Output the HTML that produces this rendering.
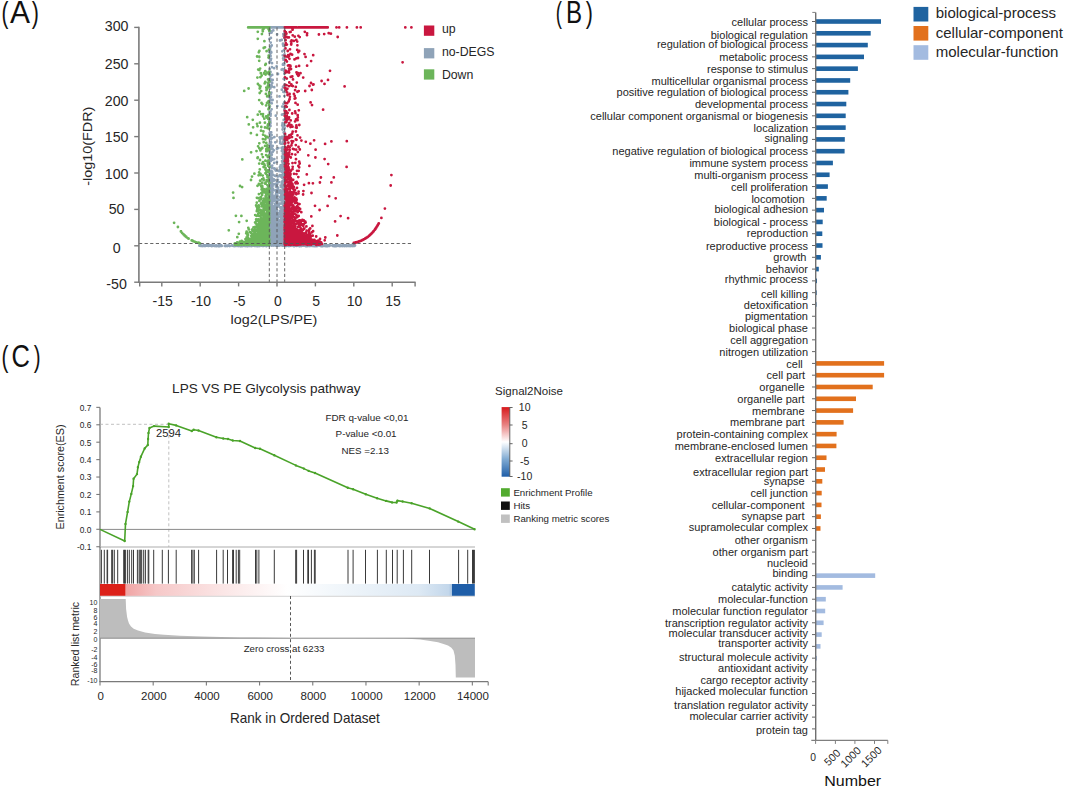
<!DOCTYPE html>
<html><head><meta charset="utf-8"><style>
html,body{margin:0;padding:0;background:#fff;}
svg{display:block;}
text{font-family:"Liberation Sans",sans-serif;}
</style></head><body>
<svg width="1065" height="788" viewBox="0 0 1065 788">
<rect width="1065" height="788" fill="#fff"/>
<text x="1.60" y="22.59" font-size="29.52" fill="#111" color="#111" textLength="6.92" lengthAdjust="spacingAndGlyphs" style="stroke-width:0.85px">(</text>
<text x="9.90" y="22.80" font-size="31.4" fill="#111" color="#111" textLength="19.99" lengthAdjust="spacingAndGlyphs" style="stroke-width:0.85px">A</text>
<text x="31.80" y="22.59" font-size="29.52" fill="#111" color="#111" textLength="7.12" lengthAdjust="spacingAndGlyphs" style="stroke-width:0.85px">)</text>
<g>
<path d="M281.8 212.9h0M270.2 180.6h0M281.8 231.3h0M283.5 244.1h0M270.2 245.2h0M276.4 234.7h0M282.9 171.8h0M283.1 202.3h0M281.0 227.6h0M271.0 244.6h0M269.6 232.0h0M270.4 236.2h0M270.3 88.4h0M269.6 229.4h0M280.2 143.2h0M279.8 220.8h0M269.7 217.3h0M284.5 226.4h0M284.4 165.8h0M269.3 27.4h0M269.5 239.5h0M271.0 174.8h0M276.3 209.0h0M283.6 140.2h0M269.5 239.1h0M283.8 213.5h0M270.7 114.0h0M283.5 191.9h0M272.0 209.5h0M277.9 242.9h0M283.4 207.7h0M276.2 245.1h0M278.1 238.0h0M283.4 227.8h0M269.6 239.7h0M271.3 92.7h0M274.1 242.7h0M275.0 242.8h0M270.2 135.6h0M281.4 199.5h0M269.5 239.2h0M270.4 226.7h0M275.7 240.9h0M281.9 136.8h0M278.6 190.3h0M283.6 235.3h0M269.9 202.6h0M284.0 216.5h0M283.7 222.4h0M270.0 180.6h0M284.5 161.8h0M270.3 155.3h0M276.6 66.3h0M283.9 64.3h0M283.4 195.4h0M282.1 208.3h0M270.3 231.0h0M281.3 187.1h0M271.0 80.2h0M270.5 204.9h0M280.3 176.3h0M272.8 215.2h0M270.5 214.7h0M272.1 182.9h0M282.9 221.8h0M282.9 213.8h0M280.4 203.6h0M269.4 204.7h0M283.2 231.0h0M277.1 195.1h0M273.5 229.0h0M284.4 198.1h0M271.6 183.7h0M283.8 194.3h0M269.4 138.2h0M271.0 174.6h0M282.9 171.5h0M271.5 208.2h0M275.6 233.0h0M277.6 245.6h0M272.7 146.0h0M277.6 198.8h0M284.6 119.9h0M282.9 153.2h0M269.8 241.2h0M269.7 197.3h0M278.8 230.2h0M277.2 193.2h0M276.0 237.0h0M271.8 224.4h0M270.4 205.8h0M271.2 207.9h0M283.0 237.8h0M270.8 185.5h0M275.3 216.9h0M270.4 132.3h0M270.0 206.2h0M277.1 34.3h0M271.5 217.8h0M281.0 219.5h0M269.7 151.5h0M270.3 60.2h0M270.5 240.0h0M274.8 226.0h0M269.9 227.1h0M270.1 192.0h0M282.5 241.8h0M283.0 166.9h0M274.6 237.3h0M280.7 232.7h0M274.4 137.1h0M272.1 227.3h0M284.5 237.6h0M269.4 205.0h0M270.4 115.5h0M271.0 226.0h0M269.9 188.4h0M281.0 222.3h0M273.6 245.4h0M277.3 214.7h0M279.2 241.6h0M284.2 201.6h0M271.9 210.9h0M283.8 208.0h0M282.9 215.8h0M284.3 139.6h0M271.3 186.5h0M278.3 230.6h0M270.6 230.4h0M270.0 219.8h0M284.1 149.6h0M275.7 196.7h0M269.5 166.8h0M282.9 222.4h0M270.6 227.7h0M270.6 85.4h0M278.7 170.7h0M273.6 197.7h0M269.3 124.3h0M273.5 244.2h0M277.6 206.7h0M277.8 242.2h0M272.6 227.1h0M269.9 191.1h0M283.1 172.9h0M283.0 233.8h0M271.7 232.0h0M282.8 227.3h0M276.8 242.3h0M270.6 231.6h0M281.5 198.2h0M280.5 239.6h0M278.1 240.8h0M280.0 40.5h0M270.2 235.8h0M279.7 175.2h0M284.1 182.1h0M281.0 212.7h0M277.2 184.3h0M282.8 212.2h0M269.9 214.1h0M279.4 230.7h0M270.4 178.0h0M283.6 150.4h0M270.2 99.0h0M283.0 147.1h0M271.5 157.9h0M281.7 196.2h0M279.8 238.7h0M273.5 226.1h0M283.1 142.8h0M270.3 185.9h0M269.7 210.7h0M283.7 210.3h0M273.6 235.6h0M277.7 189.1h0M283.0 219.7h0M270.4 171.1h0M284.6 127.8h0M269.9 72.2h0M281.6 220.2h0M271.7 208.5h0M270.3 233.8h0M270.9 46.4h0M271.5 176.8h0M271.1 233.2h0M283.2 190.5h0M279.8 237.5h0M275.7 222.6h0M284.5 128.5h0M284.1 220.6h0M279.7 239.7h0M276.2 184.4h0M283.1 196.0h0M270.0 54.3h0M282.2 212.6h0M275.1 242.2h0M276.5 231.0h0M270.9 222.1h0M272.1 240.2h0M280.1 244.3h0M283.9 244.5h0M283.9 242.8h0M276.7 239.4h0M284.3 109.7h0M269.4 73.3h0M272.5 222.5h0M280.3 231.9h0M272.9 214.8h0M270.3 217.0h0M269.6 133.1h0M276.7 185.8h0M282.7 229.6h0M269.5 159.9h0M270.4 212.1h0M269.8 29.1h0M283.1 176.1h0M271.6 211.7h0M270.9 225.1h0M283.0 201.3h0M269.8 238.9h0M274.5 240.8h0M270.8 234.6h0M271.5 244.3h0M282.0 114.7h0M283.0 224.9h0M282.6 151.4h0M283.1 240.9h0M280.5 175.8h0M284.4 85.9h0M284.5 54.3h0M283.3 141.9h0M272.4 203.0h0M283.6 86.2h0M270.5 235.8h0M270.8 224.3h0M270.7 231.7h0M283.2 243.2h0M274.1 231.2h0M282.9 239.6h0M270.3 236.7h0M282.8 220.2h0M272.1 201.7h0M284.5 32.6h0M270.6 55.9h0M283.7 119.9h0M272.1 196.2h0M284.2 202.1h0M277.2 216.0h0M269.7 50.2h0M271.5 82.6h0M273.7 243.9h0M273.7 180.7h0M277.7 234.5h0M271.8 154.8h0M271.7 245.7h0M283.9 213.3h0M270.9 232.0h0M276.0 186.7h0M280.3 214.0h0M282.4 233.8h0M284.2 233.7h0M284.5 222.0h0M273.4 223.0h0M269.6 242.8h0M280.0 243.6h0M282.3 192.1h0M279.9 234.0h0M275.6 183.9h0M270.8 236.0h0M270.4 189.4h0M283.0 244.2h0M275.8 225.8h0M270.7 244.4h0M281.2 240.7h0M270.2 229.3h0M269.5 225.1h0M271.3 52.6h0M284.3 225.8h0M269.7 234.5h0M282.9 225.3h0M277.6 237.8h0M283.9 243.9h0M284.4 216.5h0M270.9 203.8h0M269.6 193.7h0M275.2 241.3h0M271.8 160.1h0M270.5 208.3h0M277.7 230.8h0M280.5 196.7h0M273.6 239.4h0M282.6 225.0h0M272.6 232.0h0M278.0 244.8h0M271.0 97.1h0M272.3 198.6h0M275.9 205.7h0M274.4 243.3h0M275.5 232.7h0M273.0 238.5h0M271.6 229.1h0M270.2 197.4h0M284.5 219.5h0M283.2 231.5h0M275.1 244.4h0M283.6 178.2h0M272.6 239.0h0M278.7 243.8h0M276.2 243.0h0M283.7 161.7h0M270.3 227.9h0M283.6 235.8h0M282.4 245.0h0M283.9 242.5h0M281.7 241.4h0M272.3 225.6h0M283.8 229.6h0M273.1 215.2h0M271.3 238.0h0M280.1 243.0h0M283.8 221.7h0M276.7 206.9h0M284.6 225.5h0M282.5 199.8h0M284.4 212.6h0M273.5 240.4h0M273.8 236.8h0M271.5 100.0h0M279.5 233.1h0M271.7 200.3h0M284.1 55.6h0M277.7 229.8h0M281.6 227.1h0M278.8 232.4h0M274.2 87.2h0M272.0 181.3h0M283.9 137.2h0M284.3 186.8h0M276.7 233.0h0M270.3 233.8h0M272.1 178.2h0M283.1 27.4h0M277.8 225.6h0M283.7 206.7h0M269.5 38.9h0M271.1 244.7h0M283.1 228.0h0M281.1 231.9h0M284.0 234.5h0M270.9 180.7h0M270.0 224.8h0M280.4 239.7h0M283.9 232.8h0M274.5 175.6h0M283.7 236.3h0M271.5 238.0h0M277.0 223.2h0M283.9 230.3h0M270.5 160.7h0M270.0 134.0h0M283.5 242.9h0M270.6 76.0h0M278.8 204.5h0M271.1 58.8h0M283.9 192.1h0M278.1 235.3h0M276.2 244.5h0M270.7 209.7h0M278.9 229.9h0M269.9 220.5h0M269.9 138.5h0M281.8 181.8h0M283.5 234.2h0M276.8 245.2h0M276.1 193.7h0M276.9 162.0h0M269.6 164.1h0M274.6 241.6h0M272.1 173.9h0M283.8 170.1h0M282.9 69.2h0M271.1 201.6h0M284.1 197.6h0M278.2 187.6h0M274.6 232.7h0M270.4 231.1h0M283.8 195.2h0M275.1 242.8h0M271.2 232.7h0M276.9 216.9h0M270.1 240.5h0M270.8 161.1h0M273.6 243.1h0M269.9 122.1h0M283.7 240.1h0M282.8 232.7h0M276.3 241.4h0M269.8 183.3h0M269.8 198.0h0M276.7 238.3h0M269.6 243.3h0M277.6 223.1h0M283.9 243.4h0M272.2 138.1h0M269.4 241.8h0M282.6 203.9h0M272.8 159.5h0M270.5 167.2h0M270.3 99.0h0M278.0 217.5h0M273.8 242.1h0M270.2 234.5h0M282.5 221.7h0M278.0 217.7h0M271.8 207.3h0M281.9 245.4h0M277.5 195.9h0M284.2 241.1h0M275.7 170.5h0M283.4 233.7h0M271.0 218.9h0M283.9 159.7h0M283.7 242.3h0M270.6 243.8h0M281.9 226.5h0M274.8 195.8h0M270.8 132.3h0M273.1 199.2h0M270.8 94.3h0M277.0 210.2h0M270.7 189.7h0M283.8 233.2h0M275.4 211.8h0M271.6 234.3h0M284.7 232.3h0M271.4 225.7h0M270.5 195.2h0M275.7 245.6h0M269.6 81.0h0M284.1 239.8h0M271.3 222.2h0M272.6 174.5h0M270.3 198.8h0M269.8 215.0h0M283.1 233.0h0M282.3 202.1h0M280.7 185.4h0M274.6 210.5h0M277.3 228.6h0M284.6 211.6h0M275.4 239.4h0M284.4 218.9h0M282.7 243.1h0M273.2 236.2h0M270.9 146.3h0M271.6 207.1h0M271.6 213.7h0M269.8 78.8h0M282.8 239.0h0M282.9 153.9h0M282.4 125.0h0M272.0 221.7h0M271.1 100.0h0M281.5 242.6h0M281.9 212.6h0M281.6 240.2h0M284.1 190.2h0M283.2 203.6h0M283.4 227.3h0M283.8 126.0h0M269.9 242.8h0M283.5 35.9h0M269.8 201.8h0M272.2 83.1h0M280.0 200.2h0M270.9 141.9h0M270.2 219.1h0M280.1 231.5h0M271.6 32.6h0M281.9 218.9h0M284.1 226.9h0M270.1 241.1h0M269.8 208.6h0M283.9 243.0h0M281.2 228.8h0M283.3 210.5h0M284.3 228.4h0M283.9 219.7h0M284.4 200.4h0M280.7 243.1h0M270.7 244.4h0M270.0 217.8h0M270.4 239.9h0M284.5 173.6h0M270.2 184.8h0M270.2 191.6h0M283.9 244.5h0M284.2 161.5h0M280.3 138.9h0M279.7 203.7h0M283.0 87.1h0M271.2 213.8h0M274.3 200.6h0M281.9 233.0h0M270.7 180.7h0M270.1 245.1h0M283.5 231.8h0M270.7 27.4h0M281.2 240.5h0M275.5 232.5h0M275.8 115.7h0M269.7 112.1h0M284.5 238.5h0M282.6 220.2h0M278.7 239.6h0M283.9 210.4h0M271.3 200.5h0M284.3 78.7h0M283.9 210.7h0M274.7 241.7h0M283.8 218.3h0M282.6 218.2h0M271.9 230.4h0M281.6 222.4h0M281.5 175.1h0M274.7 205.6h0M270.1 242.8h0M272.6 229.0h0M272.2 180.7h0M284.4 181.9h0M283.4 231.3h0M281.5 217.1h0M270.2 148.9h0M273.7 210.9h0M281.2 234.1h0M270.8 196.5h0M273.4 190.0h0M284.1 142.4h0M269.6 159.7h0M276.5 239.1h0M281.2 244.7h0M269.7 229.9h0M276.4 211.0h0M284.6 241.2h0M270.1 241.7h0M283.6 215.9h0M274.5 223.0h0M282.6 181.2h0M270.5 144.6h0M283.5 188.3h0M270.7 224.0h0M270.5 72.0h0M281.1 193.8h0M284.3 196.8h0M284.3 37.9h0M284.3 233.2h0M271.1 31.4h0M280.2 207.5h0M269.6 243.5h0M270.9 225.9h0M283.4 59.7h0M269.9 106.4h0M282.9 224.6h0M281.7 183.1h0M276.0 202.3h0M271.0 244.9h0M283.1 221.5h0M269.8 74.2h0M282.6 231.7h0M283.8 186.9h0M284.6 225.9h0M284.6 235.8h0M278.3 148.1h0M283.5 173.1h0M280.2 211.2h0M269.4 214.3h0M280.9 217.3h0M282.6 123.2h0M284.4 232.1h0M284.1 220.9h0M270.5 123.0h0M284.1 198.9h0M277.2 239.5h0M281.4 225.5h0M269.7 173.8h0M284.0 182.5h0M279.5 243.4h0M274.9 229.7h0M284.6 179.0h0M284.3 73.7h0M271.6 235.7h0M284.2 171.3h0M283.8 188.0h0M269.9 160.0h0M269.4 201.6h0M269.7 200.1h0M284.4 78.4h0M280.0 241.5h0M282.2 233.1h0M269.4 245.0h0M274.9 180.3h0M271.8 238.2h0M277.7 200.5h0M283.8 55.2h0M275.3 218.0h0M277.5 220.5h0M269.7 156.5h0M278.8 244.5h0M283.8 237.3h0M282.8 225.5h0M271.7 45.5h0M275.9 215.2h0M274.8 244.2h0M282.6 129.6h0M281.3 195.6h0M270.7 188.3h0M277.0 191.2h0M271.8 103.3h0M284.5 113.9h0M270.3 119.1h0M271.9 182.0h0M269.5 193.9h0M283.6 191.8h0M269.4 230.4h0M281.6 165.4h0M279.4 204.0h0M272.4 210.0h0M283.9 234.2h0M281.8 89.7h0M275.6 175.9h0M271.1 240.6h0M283.5 208.2h0M283.0 206.4h0M283.8 204.4h0M272.2 165.7h0M271.6 171.4h0M282.0 194.5h0M269.8 238.7h0M270.0 226.6h0M270.2 209.0h0M270.5 221.8h0M284.1 242.9h0M270.6 226.8h0M274.5 207.6h0M283.6 158.2h0M271.1 232.3h0M270.9 196.7h0M284.6 231.7h0M283.8 192.8h0M275.7 213.2h0M283.6 210.0h0M269.4 62.5h0M282.9 185.7h0M278.6 232.7h0M269.4 222.0h0M270.8 237.4h0M269.4 208.3h0M269.3 232.9h0M276.7 195.4h0M284.5 168.0h0M271.3 194.3h0M270.0 102.6h0M280.5 224.4h0M269.9 200.9h0M279.7 137.4h0M282.2 234.0h0M276.6 233.3h0M270.1 210.5h0M269.5 176.2h0M275.9 203.8h0M277.6 234.8h0M275.8 222.3h0M283.2 222.5h0M278.6 243.4h0M283.6 59.2h0M273.6 208.3h0M284.3 96.1h0M269.8 197.4h0M272.9 212.1h0M275.2 203.8h0M271.9 86.7h0M282.8 238.7h0M274.4 212.3h0M269.8 87.0h0M279.3 241.2h0M270.1 153.4h0M276.9 148.8h0M270.1 224.1h0M275.7 237.8h0M269.8 33.0h0M284.7 214.2h0M271.3 238.4h0M270.1 224.0h0M284.5 238.4h0M270.5 219.2h0M270.7 208.4h0M282.8 216.5h0M279.3 224.6h0M270.5 228.4h0M283.2 226.3h0M283.4 207.9h0M271.9 197.6h0M280.1 241.8h0M284.1 71.0h0M278.1 219.6h0M275.8 218.3h0M271.3 190.5h0M274.8 244.4h0M269.9 167.2h0M277.9 179.8h0M271.7 241.9h0M269.4 119.6h0M271.5 185.6h0M284.0 163.7h0M284.2 238.8h0M278.1 239.8h0M274.5 208.1h0M283.2 218.7h0M270.9 228.7h0M279.7 221.0h0M277.5 239.9h0M283.7 245.7h0M283.6 219.9h0M271.6 135.0h0M270.8 223.5h0M279.3 228.4h0M283.7 185.9h0M282.3 185.7h0M269.7 215.9h0M269.5 155.6h0M271.4 227.4h0M269.6 172.7h0M281.1 229.1h0M269.8 177.7h0M276.3 192.3h0M283.4 220.3h0M274.6 231.8h0M283.8 241.8h0M282.2 231.4h0M272.0 236.7h0M275.8 232.3h0M270.6 115.8h0M281.2 222.8h0M283.5 233.2h0M270.0 227.4h0M278.9 182.1h0M273.0 188.9h0M270.1 209.6h0M269.7 222.3h0M283.4 184.2h0M270.2 226.0h0M278.2 221.0h0M270.8 177.3h0M282.2 213.0h0M283.1 245.5h0M269.4 154.9h0M280.6 244.3h0M270.6 185.7h0M283.7 193.2h0M274.5 244.4h0M270.6 159.1h0M277.0 240.4h0M277.4 226.4h0M280.6 230.9h0M271.5 215.6h0M284.1 228.6h0M269.7 240.2h0M269.9 242.4h0M283.7 232.8h0M283.7 79.1h0M283.9 239.9h0M269.9 191.2h0M284.1 224.7h0M269.6 173.5h0M273.0 217.1h0M281.8 200.7h0M283.1 204.9h0M270.3 180.8h0M284.5 195.4h0M284.2 63.4h0M281.7 210.0h0M274.0 196.8h0M274.7 242.3h0M270.7 60.3h0M284.4 208.5h0M284.6 205.1h0M282.6 245.6h0M284.5 186.6h0M284.2 107.3h0M282.8 230.6h0M269.6 191.2h0M283.0 223.8h0M277.4 231.5h0M282.4 199.1h0M275.6 197.9h0M270.9 37.9h0M271.3 191.7h0M269.7 172.4h0M274.1 220.9h0M281.9 232.8h0M271.9 244.9h0M270.0 223.5h0M283.0 44.6h0M270.4 241.6h0M272.3 194.6h0M269.7 218.3h0M283.5 244.2h0M280.1 240.8h0M283.5 186.7h0M283.1 173.7h0M284.1 237.3h0M271.5 85.2h0M281.9 151.0h0M271.6 235.2h0M275.0 218.5h0M282.0 177.3h0M282.7 244.6h0M279.9 197.3h0M271.7 193.8h0M283.3 45.8h0M270.0 231.2h0M274.8 168.6h0M269.8 223.1h0M276.1 215.2h0M271.9 233.6h0M273.0 214.3h0M284.4 239.7h0M284.5 169.8h0M270.6 228.9h0M283.6 205.9h0M269.4 221.8h0M282.3 220.3h0M269.9 224.2h0M269.9 204.5h0M277.3 221.8h0M283.9 238.8h0M284.0 193.4h0M276.6 243.5h0M284.5 182.6h0M272.5 186.5h0M271.1 51.8h0M284.0 49.8h0M281.9 192.0h0M269.4 219.1h0M277.1 194.7h0M270.5 241.2h0M282.8 222.2h0M270.4 121.1h0M270.3 223.2h0M283.6 213.0h0M269.8 236.6h0M269.6 163.7h0M283.3 234.5h0M273.8 232.6h0M270.0 233.8h0M269.4 170.3h0M278.7 241.0h0M271.5 241.6h0M282.9 143.7h0M272.2 206.2h0M275.1 210.9h0M282.6 234.4h0M275.0 235.6h0M271.5 170.8h0M269.9 213.1h0M271.3 241.3h0M272.1 216.5h0M273.6 242.2h0M277.4 237.2h0M283.8 204.6h0M284.5 216.0h0M282.2 210.5h0M280.6 227.1h0M283.9 237.6h0M276.1 229.2h0M269.7 230.5h0M283.1 208.7h0M279.7 212.9h0M284.6 223.4h0M271.7 231.6h0M272.7 237.8h0M270.9 203.6h0M281.7 147.9h0M284.1 232.3h0M275.8 245.7h0M281.7 69.7h0M283.8 204.0h0M272.9 222.4h0M282.3 158.0h0M282.0 207.1h0M284.2 223.0h0M283.6 233.5h0M283.4 223.8h0M272.3 235.1h0M282.7 240.5h0M283.3 34.1h0M283.6 174.4h0M272.2 218.8h0M276.7 234.8h0M271.1 142.5h0M269.9 189.8h0M279.9 237.5h0M269.7 199.1h0M269.3 27.4h0M270.0 59.0h0M282.1 156.3h0M271.1 221.0h0M270.0 172.9h0M270.3 178.7h0M284.6 232.4h0M284.5 85.7h0M283.5 240.5h0M274.8 230.5h0M276.7 186.5h0M273.2 239.4h0M275.9 234.4h0M271.1 223.6h0M283.0 208.6h0M271.1 239.0h0M283.3 240.3h0M280.6 165.5h0M270.4 243.9h0M269.9 185.4h0M272.2 245.1h0M282.6 235.7h0M284.4 205.3h0M272.2 171.9h0M269.6 198.9h0M279.1 242.9h0M283.2 222.8h0M271.4 152.8h0M278.1 217.5h0M283.0 241.2h0M283.6 224.9h0M282.0 213.2h0M273.9 179.3h0M271.7 200.0h0M272.0 231.6h0M280.7 235.6h0M271.2 139.0h0M283.2 114.4h0M284.5 212.0h0M284.5 243.2h0M281.0 143.7h0M284.3 168.6h0M277.8 234.7h0M275.3 190.6h0M271.1 221.5h0M270.7 154.0h0M270.7 223.1h0M273.1 231.4h0M279.5 234.7h0M272.0 184.2h0M276.9 200.6h0M271.9 226.4h0M275.5 244.7h0M282.2 106.6h0M284.5 242.4h0M284.0 207.4h0M284.0 233.1h0M279.6 234.7h0M280.4 228.4h0M270.9 198.8h0M280.0 235.2h0M270.8 200.4h0M269.7 143.7h0M283.9 216.8h0M283.3 244.7h0M273.0 215.7h0M276.0 170.7h0M270.9 233.3h0M271.3 146.0h0M273.0 226.0h0M276.5 190.0h0M281.3 197.4h0M281.7 27.4h0M284.6 211.3h0M270.1 152.4h0M270.9 173.2h0M284.4 34.1h0M282.1 161.1h0M277.9 220.5h0M282.7 166.8h0M270.4 111.4h0M281.5 237.9h0M282.1 244.2h0M269.9 237.8h0M282.7 221.3h0M272.6 152.1h0M270.0 201.7h0M283.5 104.0h0M272.1 199.5h0M272.1 244.4h0M269.7 69.1h0M279.9 226.5h0M284.4 233.9h0M274.2 245.4h0M280.6 238.0h0M282.4 233.3h0M270.3 47.4h0M280.5 190.4h0M284.6 222.1h0M283.7 132.5h0M270.3 209.0h0M271.8 201.8h0M283.9 182.7h0M272.6 100.0h0M276.4 243.2h0M269.5 176.3h0M278.6 243.7h0M277.9 214.5h0M271.7 231.3h0M279.7 227.5h0M280.8 208.4h0M284.3 209.7h0M272.0 206.4h0M283.5 203.7h0M274.2 215.4h0M283.3 241.1h0M277.9 223.2h0M282.5 170.6h0M269.7 146.0h0M272.5 192.5h0M270.5 242.0h0M271.0 205.5h0M270.5 225.4h0M276.6 240.8h0M272.6 235.0h0M282.9 183.8h0M270.2 242.2h0M271.5 222.5h0M275.4 228.1h0M284.5 210.5h0M283.7 149.8h0M275.9 237.8h0M270.5 126.0h0M277.7 205.0h0M278.6 239.6h0M282.7 244.7h0M274.1 168.4h0M270.8 207.5h0M279.3 232.4h0M277.1 232.7h0M272.1 223.7h0M270.4 173.1h0M283.5 219.5h0M283.5 136.7h0M281.7 239.7h0M269.8 223.5h0M277.4 182.0h0M269.5 227.2h0M284.0 167.2h0M271.2 132.3h0M274.2 227.6h0M283.9 181.5h0M282.9 138.6h0M283.5 207.8h0M282.8 55.3h0M281.9 236.3h0M274.4 196.4h0M269.8 210.4h0M277.1 244.7h0M277.3 239.1h0M277.3 231.2h0M284.5 231.5h0M271.6 212.0h0M269.6 199.5h0M270.7 242.4h0M284.4 215.4h0M270.4 149.4h0M272.8 214.3h0M269.8 212.6h0M269.7 199.2h0M271.9 224.4h0M271.7 204.3h0M269.5 190.0h0M270.6 215.8h0M283.7 235.6h0M276.6 240.9h0M283.4 197.6h0M273.6 215.5h0M284.0 214.3h0M270.5 192.2h0M279.2 228.6h0M282.5 235.8h0M280.4 222.1h0M269.8 241.2h0M282.5 226.5h0M283.5 188.8h0M278.0 244.3h0M269.7 238.0h0M274.7 223.4h0M274.2 162.9h0M276.1 170.3h0M284.6 234.5h0M270.9 228.2h0M279.0 232.7h0M270.7 244.2h0M284.4 102.2h0M283.7 244.9h0M271.7 242.1h0M274.7 169.2h0M269.4 243.9h0M271.9 67.2h0M269.8 156.2h0M281.8 175.9h0M283.5 215.5h0M271.5 238.2h0M282.4 168.1h0M272.8 227.3h0M274.1 68.2h0M273.4 242.2h0M270.5 211.8h0M270.7 189.3h0M279.2 239.8h0M270.4 210.7h0M269.4 97.2h0M270.8 147.7h0M274.8 235.6h0M284.1 240.3h0M284.2 199.1h0M283.6 210.9h0M276.0 230.6h0M277.9 188.7h0M284.4 229.0h0M280.8 238.6h0M282.8 226.1h0M272.0 213.6h0M278.8 220.5h0M271.3 198.1h0M281.7 40.0h0M282.2 209.1h0M272.5 148.9h0M283.3 227.3h0M271.2 213.6h0M269.4 209.2h0M269.7 126.5h0M273.5 206.7h0M272.5 235.5h0M269.5 73.1h0M269.6 236.5h0M271.2 244.5h0M270.5 220.0h0M269.4 125.9h0M284.6 191.3h0M283.0 43.7h0M278.5 244.4h0M284.4 244.4h0M279.3 244.3h0M275.8 231.8h0M270.3 78.8h0M270.9 242.3h0M279.0 204.9h0M279.9 167.2h0M281.6 166.2h0M269.5 191.9h0M269.8 174.4h0M282.4 178.1h0M279.4 238.6h0M271.5 238.8h0M275.9 223.5h0M269.4 204.4h0M283.0 148.9h0M282.9 194.3h0M283.4 124.1h0M281.9 238.7h0M275.3 244.9h0M280.7 167.4h0M271.1 187.6h0M274.2 233.8h0M275.3 142.3h0M282.7 245.2h0M283.1 219.8h0M270.5 226.0h0M278.3 236.5h0M278.0 74.0h0M283.0 188.8h0M276.3 238.6h0M281.2 218.9h0M274.5 229.4h0M283.0 205.0h0M277.6 245.8h0M277.5 240.4h0M271.4 202.6h0M283.9 221.3h0M269.7 233.5h0M282.9 240.2h0M282.3 149.5h0M273.2 223.9h0M284.2 178.0h0M284.5 230.8h0M284.4 177.2h0M283.1 63.9h0M282.7 198.4h0M282.3 51.3h0M283.6 215.4h0M273.2 238.5h0M270.9 212.4h0M271.4 223.4h0M280.7 207.4h0M284.1 216.2h0M270.1 215.0h0M284.3 185.6h0M270.6 242.8h0M283.5 207.3h0M281.7 236.6h0M281.9 238.8h0M279.4 233.2h0M270.7 196.0h0M269.6 149.9h0M272.7 219.0h0M284.6 237.9h0M271.1 243.8h0M270.9 214.3h0M284.4 132.3h0M284.2 207.9h0M284.2 230.9h0M269.4 219.3h0M278.3 239.5h0M277.2 231.5h0M281.1 236.9h0M280.0 239.2h0M269.5 227.9h0M283.4 193.2h0M276.0 226.5h0M272.4 202.9h0M277.1 230.0h0M284.7 84.3h0M271.0 189.7h0M274.7 220.5h0M284.0 243.4h0M270.7 207.8h0M279.4 192.6h0M269.6 202.9h0M284.3 232.7h0M271.9 100.1h0M278.6 243.1h0M284.6 125.6h0M282.1 194.0h0M273.9 217.3h0M277.3 106.1h0M283.2 209.2h0M283.0 175.2h0M283.8 214.2h0M276.3 215.2h0M270.5 222.2h0M270.8 244.7h0M277.8 176.6h0M283.5 194.3h0M269.5 243.5h0M277.6 217.4h0M278.1 170.8h0M282.5 162.8h0M282.4 203.8h0M280.4 226.8h0M269.6 192.5h0M282.7 239.3h0M282.8 236.4h0M282.5 215.6h0M269.5 245.3h0M270.8 52.0h0M283.9 240.8h0M283.5 199.8h0M283.7 229.4h0M284.6 92.2h0M283.3 222.2h0M283.9 207.9h0M279.5 96.4h0M271.7 220.1h0M282.2 208.7h0M283.8 216.6h0M271.7 233.4h0M281.8 233.7h0M274.5 199.3h0M270.8 227.6h0M269.4 217.3h0M275.6 216.8h0M282.1 190.8h0M284.3 154.4h0M282.4 27.4h0M271.5 196.3h0M280.0 240.2h0M274.3 236.4h0M278.3 245.4h0M283.7 223.6h0M283.6 197.8h0M269.8 155.5h0M271.5 147.6h0M275.5 245.0h0M271.6 109.3h0M269.8 204.7h0M272.2 174.9h0M284.4 134.1h0M281.4 171.5h0M272.0 63.2h0M269.9 192.0h0M271.8 234.0h0M283.2 189.9h0M283.8 244.9h0M272.5 227.1h0M271.4 245.6h0M283.7 232.0h0M284.3 223.3h0M273.7 238.9h0M273.0 197.5h0M284.0 125.1h0M280.2 170.5h0M283.3 225.0h0M270.0 87.6h0M278.5 244.3h0M279.7 239.3h0M283.6 223.0h0M272.0 238.0h0M272.1 215.0h0M281.9 242.6h0M270.7 244.2h0M284.0 240.2h0M269.9 159.4h0M280.2 241.4h0M270.4 221.0h0M284.6 207.1h0M282.9 169.1h0M269.3 196.1h0M281.6 237.0h0M279.0 235.8h0M283.9 179.5h0M269.7 212.7h0M283.3 197.9h0M284.0 159.3h0M282.5 208.0h0M272.0 207.1h0M282.0 191.8h0M271.1 208.6h0M283.7 225.4h0M275.6 227.2h0M284.3 228.7h0M271.0 237.9h0M273.5 240.2h0M270.7 42.6h0M269.9 234.2h0M274.3 159.1h0M270.0 236.4h0M284.6 199.9h0M280.2 141.4h0M284.0 227.6h0M271.6 208.1h0M269.4 220.5h0M283.1 58.4h0M271.3 244.4h0M279.3 171.0h0M284.1 64.7h0M272.0 199.6h0M279.5 216.3h0M270.3 113.8h0M270.3 47.8h0M284.1 196.5h0M284.5 108.6h0M276.0 217.3h0M269.4 236.4h0M270.0 125.7h0M270.4 243.9h0M283.5 230.2h0M276.1 224.1h0M269.6 223.4h0M282.3 231.6h0M282.2 125.6h0M282.1 245.1h0M270.0 238.0h0M283.3 221.9h0M284.1 236.1h0M270.1 201.6h0M271.4 213.6h0M283.4 91.9h0M282.9 64.7h0M280.5 220.7h0M273.0 229.7h0M273.3 30.4h0M269.4 178.1h0M270.0 244.7h0M283.8 220.8h0M269.9 240.6h0M276.4 226.1h0M270.0 50.0h0M276.1 205.1h0M270.2 125.3h0M282.8 171.1h0M283.8 196.7h0M274.3 244.2h0M284.0 27.4h0M284.4 158.4h0M274.4 238.0h0M271.8 244.0h0M270.8 176.5h0M269.4 160.6h0M277.8 213.0h0M284.2 173.0h0M273.0 220.4h0M273.3 232.6h0M283.3 241.1h0M284.4 221.7h0M273.7 184.4h0M284.4 221.5h0M273.5 243.0h0M271.3 224.1h0M284.1 243.5h0M276.9 237.0h0M274.0 180.6h0M284.3 234.7h0M283.1 240.2h0M269.8 166.2h0M283.3 219.7h0M284.0 156.2h0M271.0 237.6h0M271.9 205.2h0M283.7 128.9h0M280.0 169.4h0M273.0 242.4h0M284.6 182.6h0M269.5 198.5h0M269.8 159.3h0M283.0 236.0h0M270.2 137.4h0M283.8 231.6h0M283.7 165.1h0M279.1 243.2h0M270.1 242.6h0M271.0 215.2h0M278.6 228.5h0M269.5 224.5h0M270.3 231.6h0M272.9 213.7h0M281.1 219.5h0M270.3 221.3h0M274.8 230.0h0M275.8 242.6h0M282.2 214.5h0M269.8 220.3h0M281.1 222.6h0M271.7 210.7h0M270.3 160.5h0M275.3 240.0h0M269.5 230.5h0M275.7 244.8h0M283.8 223.5h0M278.4 232.3h0M269.6 179.4h0M271.7 197.1h0M275.7 236.7h0M272.0 167.9h0M270.1 220.3h0M283.3 214.7h0M283.1 222.6h0M274.1 221.3h0M277.2 202.2h0M282.4 197.3h0M284.6 233.4h0M273.4 228.0h0M271.6 211.3h0M271.0 193.7h0M271.6 219.1h0M269.3 85.4h0M270.6 172.5h0M283.0 225.4h0M271.3 238.1h0M284.0 222.3h0M269.5 243.5h0M272.0 238.3h0M283.0 127.9h0M272.2 74.9h0M277.4 244.7h0M279.6 226.4h0M280.0 232.1h0M278.0 213.4h0M273.9 150.3h0M276.8 243.3h0M269.8 238.4h0M273.3 232.3h0M284.5 224.3h0M269.9 138.2h0M280.7 215.7h0M284.5 127.9h0M283.9 178.4h0M269.5 52.0h0M273.6 213.7h0M272.7 80.0h0M283.9 178.1h0M273.2 200.9h0M280.1 210.8h0M280.6 213.0h0M270.1 233.1h0M269.9 238.8h0M274.7 180.2h0M284.3 174.8h0M270.0 177.5h0M270.3 207.9h0M284.5 127.6h0M269.5 202.4h0M271.1 206.8h0M283.8 210.7h0M273.6 240.3h0M279.7 224.2h0M278.0 232.1h0M275.3 228.3h0M273.9 235.6h0M283.6 241.7h0M276.6 242.1h0M271.4 229.7h0M283.9 230.7h0M282.3 236.5h0M283.9 244.5h0M272.8 236.2h0M283.8 230.6h0M282.5 229.4h0M277.0 232.2h0M283.3 228.2h0M280.1 224.4h0M271.0 244.8h0M272.4 243.1h0M284.2 226.5h0M280.6 228.7h0M280.9 242.7h0M276.8 225.8h0M272.2 235.6h0M281.7 239.7h0M272.0 229.5h0M274.5 228.9h0M277.2 232.0h0M279.9 233.4h0M275.8 235.1h0M271.0 238.1h0M280.9 225.5h0M275.2 227.9h0M273.5 237.5h0M279.6 227.4h0M272.0 235.6h0M275.3 225.4h0M278.6 225.6h0M276.6 224.6h0M279.1 231.3h0M277.6 233.6h0M282.3 240.6h0M279.5 229.6h0M278.8 231.1h0M276.7 234.6h0M282.4 239.6h0M284.5 244.5h0M276.4 235.3h0M277.0 225.1h0M275.9 233.4h0M272.2 227.0h0M277.6 244.9h0M278.0 233.8h0M276.5 224.0h0M274.1 224.4h0M275.1 242.7h0M274.6 227.0h0M271.6 240.4h0M276.0 226.0h0M281.5 235.9h0M273.4 225.3h0M273.4 227.8h0M273.1 241.7h0M280.5 237.0h0M281.3 243.2h0M282.1 224.8h0M274.1 243.2h0M281.1 237.0h0M281.9 237.5h0M270.7 234.0h0M270.4 229.4h0M281.9 227.6h0M282.5 242.9h0M279.1 235.4h0M272.8 244.1h0M275.7 243.6h0M272.7 229.0h0M276.9 240.9h0M274.4 232.4h0M273.5 244.7h0M284.3 225.5h0M274.3 241.6h0M270.1 233.9h0M280.5 224.1h0M282.2 239.4h0M278.7 233.4h0M281.0 242.0h0M275.9 228.0h0M272.3 244.5h0M283.9 235.5h0M274.1 226.5h0M284.0 233.4h0M277.6 232.4h0M270.2 226.2h0M280.2 241.4h0M280.9 240.8h0M270.1 232.9h0M272.0 233.2h0M279.3 224.5h0M279.8 239.5h0M272.3 240.1h0M282.7 225.4h0M283.8 226.9h0M282.0 240.6h0M282.7 230.4h0M275.9 230.8h0M274.5 232.8h0M272.8 241.2h0M273.7 226.2h0M273.4 230.2h0M278.9 229.8h0M269.5 233.4h0M284.7 227.5h0M269.7 233.3h0M276.9 229.1h0M280.2 229.6h0M282.7 227.1h0M283.7 232.6h0M283.2 226.4h0M272.7 237.5h0M269.7 230.1h0M275.8 225.3h0M277.6 233.9h0M279.8 234.5h0M274.6 230.4h0M284.6 231.8h0M279.0 232.0h0M270.3 242.7h0M276.5 231.3h0M282.5 234.0h0M273.6 233.2h0M271.6 243.8h0M281.8 235.7h0M277.3 237.2h0M283.8 229.4h0M275.3 224.1h0M283.1 228.7h0M278.5 235.7h0M270.0 235.5h0M270.5 227.9h0M281.3 238.5h0M273.3 227.2h0M280.6 229.7h0M270.8 234.0h0M281.1 238.9h0M276.5 224.4h0M282.3 236.8h0M280.8 232.0h0M274.5 226.1h0M276.6 238.1h0M272.3 227.1h0M271.6 225.7h0M271.1 242.4h0M273.0 236.8h0M273.7 230.8h0M277.0 242.2h0M272.9 235.3h0M271.6 235.1h0M279.5 245.5h0M271.1 227.6h0M281.0 229.0h0M273.5 238.5h0M281.7 228.5h0M279.6 243.2h0M280.6 224.4h0M271.4 242.3h0M269.8 234.1h0M273.5 237.1h0M269.3 245.4h0M277.6 234.2h0M273.1 241.1h0M281.4 230.8h0M277.7 234.1h0M273.8 230.0h0M273.5 238.0h0M278.4 232.2h0M275.1 229.4h0M282.1 232.1h0M274.0 229.0h0M275.4 242.8h0M269.5 239.2h0M269.7 230.4h0M278.9 234.3h0M283.3 231.3h0M275.9 241.9h0M270.0 232.9h0M283.1 224.2h0M283.8 241.4h0M270.8 244.1h0M275.2 233.7h0M277.5 242.3h0M273.5 227.9h0M271.3 227.7h0M275.0 242.4h0M283.4 227.2h0M283.2 226.0h0M273.5 235.4h0M274.4 229.6h0M275.7 239.4h0M269.8 228.6h0M269.4 234.8h0M274.8 228.4h0M274.8 227.0h0M283.1 245.3h0M282.5 234.0h0M275.6 241.4h0M273.3 245.6h0M271.2 226.0h0M273.0 226.4h0M277.6 234.2h0M271.4 231.4h0M277.8 238.4h0M276.7 245.6h0M279.0 226.1h0M271.8 243.1h0M275.3 231.6h0M280.6 225.5h0M273.0 229.7h0M271.9 239.1h0M277.4 233.6h0M276.2 237.5h0M273.0 240.2h0M274.2 243.0h0M275.2 244.1h0M279.0 231.7h0M276.2 229.7h0M282.3 228.9h0M281.6 237.8h0M272.6 225.2h0M280.9 229.2h0M279.2 239.5h0M269.9 226.1h0M273.4 224.1h0M276.2 236.4h0M270.4 242.4h0M280.7 225.5h0M279.1 238.5h0M274.0 237.8h0M281.2 227.4h0M271.3 234.9h0M281.2 240.5h0M278.2 245.7h0M270.2 226.2h0M282.0 245.4h0M275.8 224.3h0M274.5 227.5h0M283.6 228.9h0M277.6 241.4h0M284.5 227.4h0M271.5 229.3h0M270.7 242.4h0M284.1 225.3h0M270.2 239.4h0M272.2 228.3h0M282.3 233.0h0M274.6 245.4h0M271.3 230.6h0M272.6 242.9h0M283.6 224.8h0M281.6 234.8h0M280.4 239.1h0M282.7 241.7h0M278.4 229.4h0M271.7 240.0h0M271.4 238.0h0M279.1 238.1h0M282.7 224.4h0M282.0 236.4h0M270.7 229.1h0M277.4 232.2h0M278.4 224.9h0M282.3 226.2h0M280.9 236.1h0M280.6 240.3h0M280.2 241.6h0M284.5 233.2h0M278.0 241.7h0M273.3 227.4h0M274.3 242.3h0M272.5 233.8h0M272.6 224.7h0M278.8 237.9h0M274.6 237.1h0M282.2 241.4h0M274.1 240.5h0M282.0 226.6h0M272.3 234.6h0M278.2 230.1h0M284.3 244.8h0M274.0 229.1h0M274.5 242.4h0M282.4 236.0h0M271.8 238.6h0M275.1 242.6h0M277.8 245.6h0M271.6 224.0h0M278.0 237.9h0M282.5 237.3h0M280.9 238.2h0M284.3 232.5h0M273.9 230.9h0M279.5 234.7h0M282.9 224.5h0M283.9 224.1h0M281.9 243.2h0M269.6 235.6h0M271.6 235.9h0M284.0 225.4h0M279.2 242.6h0M270.5 243.7h0M284.7 244.3h0M273.4 230.3h0M279.7 224.3h0M280.5 227.8h0M277.5 228.9h0M276.6 244.7h0M281.8 244.2h0M271.5 236.9h0M273.9 225.6h0M276.3 230.3h0M274.9 242.6h0M274.2 226.1h0M280.1 235.5h0M278.1 241.8h0M274.5 233.2h0M280.1 243.1h0M284.3 242.9h0M272.5 234.8h0M271.3 224.1h0M275.2 239.1h0M277.9 227.7h0M278.0 233.2h0M277.8 242.8h0M271.5 235.0h0M275.3 229.0h0M273.5 234.8h0M278.0 224.7h0M276.8 229.7h0M282.9 229.0h0M278.8 234.1h0M269.7 227.7h0M282.1 236.1h0M273.9 227.4h0M281.4 238.5h0M279.9 226.5h0M282.5 232.4h0M272.0 241.3h0M282.6 229.4h0M272.0 238.2h0M276.9 244.6h0M272.4 229.4h0M279.1 236.6h0M280.9 235.0h0M271.3 228.0h0M276.0 234.4h0M276.4 229.0h0M283.6 245.4h0M279.6 234.0h0M279.8 226.6h0M272.5 225.7h0M279.9 228.6h0M283.6 229.5h0M282.3 225.2h0M279.9 224.9h0M280.7 227.5h0M277.2 236.3h0M274.6 226.2h0M277.8 226.5h0M270.7 227.9h0M279.7 231.1h0M281.0 240.8h0M279.9 225.3h0M280.8 225.0h0M275.2 232.9h0M273.3 236.7h0M272.8 239.9h0M276.3 241.8h0M280.6 245.0h0M282.0 242.3h0M281.2 227.6h0M284.2 233.9h0M273.8 237.9h0M282.8 243.4h0M272.0 244.7h0M280.1 235.1h0M284.2 237.6h0M280.0 239.7h0M283.7 235.4h0M283.3 228.6h0M277.9 243.8h0M279.3 242.8h0M278.0 228.0h0M270.1 225.8h0M277.2 239.6h0M279.0 235.9h0M270.2 231.2h0M284.6 225.0h0M277.6 243.9h0M278.9 243.5h0M270.2 230.0h0M281.5 27.4h0M272.8 27.4h0M277.5 27.4h0M284.2 27.4h0M280.9 27.4h0M271.2 27.4h0M276.6 27.4h0M281.1 27.4h0M271.4 27.4h0M275.6 27.4h0M269.3 27.4h0M278.2 27.4h0M278.8 27.4h0M273.5 27.4h0M273.5 27.4h0M280.7 27.4h0M276.1 27.4h0M284.6 27.4h0M281.1 27.4h0M269.4 27.4h0M283.9 27.4h0M276.1 27.4h0M275.1 27.4h0M281.2 27.4h0M278.9 27.4h0M282.0 27.4h0M277.1 27.4h0M283.3 27.4h0M284.4 27.4h0M275.0 27.4h0M276.6 27.4h0M271.0 27.4h0M270.4 27.4h0M270.1 27.4h0M276.8 27.4h0M280.3 27.4h0M271.3 27.4h0M280.1 27.4h0M271.8 27.4h0M281.8 27.4h0M278.6 27.4h0M269.4 27.4h0M284.6 27.4h0M278.5 27.4h0M271.3 27.4h0M269.9 27.4h0M277.1 27.4h0M279.3 27.4h0M283.2 27.4h0M270.7 27.4h0M284.0 27.4h0M274.3 27.4h0M277.7 27.4h0M275.6 27.4h0M281.8 27.4h0M278.4 27.4h0M280.2 27.4h0M284.4 27.4h0M279.8 27.4h0M274.6 27.4h0M277.8 27.4h0M273.3 27.4h0M278.4 27.4h0M272.4 27.4h0M280.4 27.4h0M280.9 27.4h0M278.1 27.4h0M284.1 27.4h0M274.9 27.4h0M282.7 27.4h0M256.7 245.4h0M259.2 246.1h0M310.1 245.8h0M202.9 246.0h0M328.5 245.5h0M329.0 245.9h0M248.1 245.5h0M347.9 245.7h0M328.2 245.5h0M286.6 245.7h0M335.5 246.0h0M239.6 245.4h0M344.6 246.0h0M216.5 245.6h0M351.8 245.8h0M338.6 245.4h0M219.4 245.5h0M258.5 245.7h0M221.2 245.5h0M255.8 245.8h0M257.9 245.6h0M217.3 245.8h0M200.9 245.6h0M335.4 245.8h0M301.2 246.1h0M342.1 245.9h0M254.7 245.6h0M215.8 245.9h0M345.4 245.6h0M335.0 246.0h0M240.2 245.7h0M200.3 245.4h0M294.1 245.7h0M328.6 245.7h0M286.8 245.6h0M303.8 245.7h0M337.6 245.7h0M251.7 246.0h0M296.9 245.8h0M306.5 245.5h0M320.9 246.0h0M236.3 245.6h0M313.5 245.7h0M265.4 245.4h0M304.1 245.6h0M289.3 245.4h0M212.9 245.4h0M319.9 245.6h0M349.5 245.6h0M325.0 245.5h0M258.9 246.0h0M309.2 245.9h0M255.9 245.7h0M240.4 245.9h0M314.5 245.6h0M240.6 246.0h0M333.8 246.0h0M327.3 246.0h0M242.7 246.0h0M319.7 245.6h0M351.7 245.9h0M294.3 245.6h0M344.5 246.0h0M332.5 245.8h0M317.4 245.4h0M343.2 245.9h0M334.8 245.6h0M315.3 245.8h0M220.9 245.4h0M349.5 245.7h0M229.7 245.8h0M258.9 245.6h0M259.0 245.7h0M240.5 245.7h0M206.5 245.5h0M334.2 246.1h0M343.0 245.5h0M351.3 245.5h0M341.7 245.8h0M261.4 245.5h0M257.1 245.8h0M325.3 245.4h0M315.5 246.0h0M300.6 245.7h0M332.5 245.5h0M269.1 245.8h0M327.8 246.0h0M350.1 245.5h0M348.3 245.9h0M340.0 245.5h0M215.4 245.8h0M355.0 245.6h0M346.7 245.7h0M312.0 245.9h0M265.7 245.7h0M218.1 246.0h0M214.2 245.8h0M206.7 245.6h0M328.4 245.9h0M249.5 245.9h0M228.8 245.4h0M324.8 245.9h0M260.8 245.8h0M205.8 245.4h0M247.7 246.0h0M244.7 245.8h0M294.9 245.4h0M213.3 245.7h0M329.2 245.4h0M258.4 245.5h0M235.5 245.9h0M302.0 245.7h0M311.9 245.4h0M289.4 245.5h0M249.7 245.9h0M322.8 246.1h0M329.9 245.4h0M326.8 245.4h0M323.5 245.8h0M211.5 246.0h0M354.2 245.5h0M321.8 246.0h0M208.6 245.9h0M246.9 246.0h0M351.5 245.9h0M301.7 245.5h0M229.7 246.0h0M211.3 245.4h0M301.2 245.6h0M313.5 245.8h0M262.2 245.4h0M349.1 245.4h0M324.7 245.5h0M261.9 245.5h0M289.7 245.6h0M219.8 246.0h0M264.5 245.5h0M316.0 245.7h0M254.5 245.9h0M207.7 245.6h0M218.2 245.9h0M320.9 245.9h0M254.5 245.8h0M302.5 245.5h0M335.3 245.9h0M343.8 245.5h0M321.3 246.0h0M256.9 246.0h0M253.2 245.5h0M354.8 245.7h0M344.6 245.7h0M299.9 246.0h0M300.6 245.6h0M266.5 246.1h0M259.7 245.6h0M321.9 245.6h0M323.8 245.6h0M208.3 245.9h0M256.3 245.4h0M309.9 246.0h0M341.7 245.6h0M246.9 245.7h0M215.8 245.9h0M214.7 245.7h0M287.6 245.6h0M352.0 245.6h0M250.3 245.7h0M337.0 245.9h0M200.9 245.9h0M285.9 245.5h0M245.1 246.0h0M205.0 246.0h0M213.4 245.7h0M345.2 245.9h0M354.0 245.5h0M296.8 245.9h0M316.6 246.0h0M248.5 245.6h0M199.4 245.7h0M257.4 245.5h0M261.3 245.5h0M321.6 245.8h0M252.8 245.5h0M208.2 245.8h0M346.0 245.6h0M219.4 246.1h0M344.2 245.5h0M251.1 245.9h0M251.1 245.8h0M209.3 245.6h0M262.7 245.6h0M225.0 245.9h0M226.8 245.8h0M285.6 245.8h0M233.1 245.8h0M260.1 245.4h0M349.6 245.6h0M262.4 245.7h0M340.9 245.7h0M299.0 245.8h0M220.4 245.7h0M236.5 245.6h0M208.1 245.6h0M325.6 246.0h0M333.7 245.5h0M316.2 245.9h0M256.5 245.5h0M345.7 245.7h0M286.7 245.9h0M224.8 245.9h0M234.4 246.0h0M208.2 245.7h0M295.3 245.6h0M340.1 246.1h0M334.7 245.8h0M265.1 245.4h0M201.6 245.6h0M240.7 245.6h0M254.1 245.8h0M326.0 245.6h0M265.5 245.7h0M216.5 246.1h0M354.6 245.9h0M250.3 245.8h0M253.4 245.5h0M317.6 245.5h0M329.1 245.6h0M204.6 245.8h0M206.3 245.6h0M305.6 246.0h0M320.9 245.6h0M354.4 245.5h0M347.0 245.9h0M250.3 245.7h0M336.2 246.1h0M264.0 245.8h0M212.9 245.8h0M344.7 245.5h0M216.1 246.1h0M301.5 245.8h0M349.1 246.0h0M238.1 246.0h0M268.7 245.4h0M250.7 245.8h0M262.2 245.7h0M355.0 245.4h0M350.9 245.8h0M342.6 245.7h0M204.1 245.4h0M215.0 246.0h0M236.4 245.8h0M314.5 246.0h0M211.6 245.8h0M307.4 246.1h0M308.6 245.9h0M212.2 245.6h0M313.2 246.0h0M300.3 245.5h0M344.7 245.6h0M333.7 245.8h0M264.8 245.4h0M289.0 246.0h0M350.7 246.0h0M203.7 245.5h0M216.1 245.4h0M251.9 245.5h0M242.0 245.5h0M257.6 246.0h0M294.7 245.8h0M247.8 245.5h0M245.4 245.9h0M234.6 245.7h0M240.2 246.1h0M299.1 246.1h0M221.7 245.9h0M235.4 245.8h0M352.3 245.5h0M334.1 245.8h0M353.0 245.8h0M352.9 246.0h0M301.2 245.7h0M306.6 246.0h0M336.9 245.6h0M338.6 245.8h0M350.9 245.6h0M326.3 246.0h0M352.2 245.5h0M345.2 245.5h0M228.7 245.6h0M210.2 245.7h0M226.0 245.8h0M246.8 245.7h0M306.3 245.5h0M339.7 246.0h0M262.7 245.8h0M213.0 245.8h0M231.9 245.5h0M209.6 245.4h0M335.9 245.4h0M240.4 245.8h0M262.5 245.9h0M352.6 245.5h0M321.6 245.5h0M246.9 245.6h0M225.6 246.0h0M317.1 246.1h0M286.2 245.8h0M307.7 245.8h0M218.5 246.0h0M336.0 245.4h0M219.3 245.6h0M339.0 245.5h0M307.9 245.6h0M249.8 245.9h0M199.7 245.6h0M308.4 245.8h0M291.0 245.6h0M324.9 245.6h0M239.3 245.9h0M338.1 245.4h0M212.7 245.8h0M263.0 245.8h0M327.3 245.4h0M240.6 245.7h0M336.4 246.0h0M293.0 245.6h0M306.8 246.1h0M299.6 246.0h0M344.1 245.5h0M329.8 245.8h0M292.6 245.5h0M339.5 245.7h0M321.0 245.9h0M214.8 245.8h0M255.1 245.7h0M268.8 245.4h0M297.9 245.6h0M220.7 245.4h0M227.2 246.0h0M308.3 245.5h0M241.0 245.4h0M346.5 245.7h0M319.6 245.5h0M241.4 246.0h0M324.5 245.5h0M245.4 245.4h0M294.5 246.0h0M350.2 245.4h0M291.0 245.8h0M263.8 245.8h0M342.3 246.0h0M266.1 246.0h0M293.6 246.0h0M250.7 245.5h0M336.5 245.5h0M251.2 245.4h0M210.2 245.4h0M342.7 245.7h0M325.8 246.0h0M346.3 246.0h0" stroke="#8fa3b8" stroke-width="2.8" stroke-linecap="round" fill="none"/>
<path d="M265.3 81.9h0M257.8 157.5h0M264.4 240.8h0M260.8 73.1h0M263.2 243.1h0M259.4 200.9h0M257.5 158.0h0M269.2 128.6h0M263.0 244.7h0M267.9 82.9h0M257.0 243.4h0M263.2 244.9h0M262.2 215.6h0M268.6 29.3h0M269.3 242.2h0M269.3 233.0h0M264.2 233.7h0M261.3 244.8h0M269.3 74.2h0M264.0 73.6h0M266.5 243.4h0M263.6 167.0h0M262.9 139.1h0M265.8 63.9h0M261.2 91.1h0M259.2 100.1h0M268.8 243.2h0M261.7 75.5h0M256.8 207.0h0M256.9 211.2h0M268.6 244.8h0M265.1 239.5h0M264.8 231.1h0M268.4 180.4h0M264.8 244.7h0M256.5 206.2h0M262.9 157.1h0M267.5 185.3h0M259.1 172.5h0M266.5 243.8h0M261.9 236.0h0M269.2 107.7h0M257.5 185.8h0M269.0 155.7h0M260.4 175.0h0M262.8 227.5h0M257.2 244.5h0M267.6 239.9h0M259.4 85.6h0M263.2 238.9h0M266.6 51.2h0M258.8 52.3h0M260.0 160.0h0M265.9 93.9h0M260.5 86.4h0M265.2 135.8h0M259.6 244.8h0M268.8 171.7h0M259.3 57.1h0M262.8 31.3h0M266.8 117.6h0M268.1 206.5h0M268.4 242.8h0M256.4 235.0h0M268.6 109.2h0M262.2 179.2h0M265.6 74.6h0M262.1 243.1h0M257.0 123.8h0M256.5 151.1h0M265.4 209.9h0M268.9 163.3h0M259.0 184.5h0M256.8 202.7h0M266.5 90.2h0M267.7 223.9h0M257.5 126.2h0M268.6 57.3h0M263.3 242.1h0M256.6 215.9h0M266.3 238.0h0M261.2 242.8h0M267.0 103.0h0M264.9 238.6h0M263.0 116.3h0M261.2 236.3h0M257.1 56.5h0M268.9 234.0h0M260.4 150.4h0M268.0 124.4h0M264.8 215.2h0M258.3 198.2h0M267.1 72.7h0M261.5 232.8h0M265.9 208.1h0M259.4 50.9h0M264.4 41.2h0M266.6 222.8h0M264.3 215.9h0M261.6 189.4h0M262.3 148.0h0M259.6 111.6h0M265.2 244.1h0M261.3 198.3h0M260.0 87.9h0M257.1 244.8h0M263.2 205.4h0M266.0 173.8h0M265.2 227.6h0M267.8 163.8h0M262.5 239.9h0M258.2 69.6h0M263.7 142.2h0M267.0 243.3h0M267.2 136.9h0M267.9 176.4h0M269.3 81.3h0M266.4 241.9h0M268.0 244.3h0M263.4 214.0h0M264.9 122.7h0M268.3 224.4h0M268.8 95.6h0M269.2 93.0h0M259.3 70.1h0M264.0 47.7h0M263.8 202.6h0M264.9 235.7h0M265.5 225.1h0M259.2 60.8h0M259.2 56.7h0M267.7 118.0h0M262.3 244.2h0M263.7 221.4h0M269.2 218.8h0M268.6 109.0h0M260.0 234.3h0M268.6 101.2h0M266.3 149.2h0M266.1 105.4h0M259.6 224.3h0M263.8 189.1h0M256.8 211.2h0M259.8 88.6h0M268.3 243.9h0M261.9 34.1h0M267.2 146.8h0M264.1 234.1h0M264.4 238.5h0M261.9 243.9h0M258.9 184.0h0M260.3 244.6h0M258.1 146.3h0M258.9 194.1h0M263.5 29.0h0M256.9 134.9h0M259.4 184.4h0M268.5 57.6h0M268.1 79.5h0M267.2 96.4h0M262.2 163.7h0M264.1 244.8h0M261.9 154.3h0M263.1 205.9h0M263.4 243.7h0M258.4 235.9h0M259.3 148.3h0M268.7 229.0h0M263.7 238.8h0M268.4 102.4h0M269.2 92.3h0M260.1 180.7h0M268.5 109.3h0M258.9 243.8h0M267.7 137.3h0M265.3 139.4h0M261.6 237.4h0M259.9 244.5h0M269.3 122.1h0M259.7 93.0h0M264.1 72.9h0M269.3 167.0h0M263.9 243.6h0M263.1 200.6h0M266.6 241.3h0M259.8 169.4h0M257.8 114.7h0M263.4 214.4h0M266.9 228.5h0M258.3 229.8h0M260.5 173.8h0M266.2 194.3h0M258.1 224.6h0M263.9 244.0h0M268.3 87.3h0M268.5 118.6h0M260.6 227.3h0M266.1 228.1h0M268.3 119.1h0M268.8 196.9h0M268.4 155.9h0M261.1 203.4h0M268.1 210.8h0M265.6 217.5h0M267.4 210.4h0M269.0 230.2h0M263.0 162.1h0M268.0 85.4h0M257.2 241.9h0M261.8 206.0h0M259.1 223.0h0M261.6 183.4h0M265.3 208.2h0M264.3 118.7h0M257.8 38.8h0M268.9 87.2h0M265.4 244.5h0M268.3 244.7h0M266.8 210.6h0M266.3 142.9h0M259.0 215.9h0M262.2 211.2h0M266.4 171.8h0M258.8 234.4h0M269.2 206.9h0M259.2 163.6h0M269.0 243.0h0M269.1 210.7h0M258.0 208.0h0M259.7 235.6h0M269.3 30.9h0M265.4 169.6h0M264.3 189.6h0M269.0 49.6h0M266.2 234.3h0M256.9 237.6h0M267.6 181.2h0M268.0 224.5h0M261.2 218.1h0M258.5 224.8h0M266.9 243.5h0M269.3 244.5h0M269.0 149.5h0M268.3 163.5h0M268.6 239.9h0M264.2 192.4h0M265.8 221.8h0M262.7 30.1h0M263.6 210.2h0M263.8 190.3h0M265.8 244.4h0M265.4 244.5h0M269.2 71.7h0M263.6 208.3h0M262.2 218.6h0M265.3 64.9h0M263.7 48.0h0M258.0 225.5h0M266.3 151.2h0M263.0 114.1h0M268.0 232.8h0M265.0 127.5h0M262.3 104.1h0M262.3 239.2h0M258.5 225.7h0M262.2 187.9h0M258.6 226.0h0M258.9 226.8h0M267.6 116.4h0M266.9 244.8h0M267.0 244.4h0M266.5 237.6h0M264.1 209.3h0M268.9 238.2h0M263.2 244.8h0M265.0 47.3h0M261.3 127.0h0M258.2 214.0h0M261.8 148.6h0M269.0 191.8h0M265.4 236.5h0M266.7 189.1h0M268.7 55.6h0M264.1 223.0h0M267.6 233.7h0M264.7 83.4h0M261.1 203.8h0M269.2 209.1h0M257.8 31.8h0M260.4 77.2h0M263.1 134.7h0M268.7 231.9h0M261.4 231.1h0M263.1 200.9h0M269.2 104.9h0M268.1 244.3h0M259.3 143.3h0M256.9 197.8h0M263.4 131.5h0M260.8 231.7h0M254.3 238.7h0M264.4 222.4h0M245.5 242.4h0M269.1 234.6h0M260.5 210.0h0M265.1 145.9h0M255.0 243.2h0M252.9 238.3h0M245.0 244.0h0M266.1 199.2h0M267.9 234.0h0M253.0 230.9h0M266.9 220.0h0M260.1 237.0h0M265.4 216.3h0M260.0 244.7h0M264.0 214.0h0M265.1 242.8h0M254.0 243.7h0M259.2 244.3h0M246.6 231.7h0M257.6 235.1h0M268.5 239.8h0M266.5 229.8h0M262.7 175.6h0M261.3 193.2h0M269.3 235.2h0M268.7 185.4h0M259.4 242.8h0M253.4 235.1h0M254.9 241.7h0M259.4 237.2h0M264.0 243.2h0M267.9 224.8h0M260.7 237.3h0M268.0 234.0h0M265.6 196.2h0M262.5 230.0h0M268.1 191.5h0M266.8 197.6h0M263.2 240.5h0M259.9 242.6h0M258.4 244.6h0M263.7 225.0h0M268.2 190.2h0M268.4 203.4h0M254.2 237.8h0M257.0 241.6h0M265.3 241.7h0M264.8 234.7h0M259.5 230.4h0M259.4 233.1h0M265.7 238.2h0M265.4 242.4h0M265.7 221.9h0M263.0 219.5h0M264.9 223.8h0M256.5 240.0h0M254.1 230.7h0M267.8 242.1h0M265.0 236.6h0M265.6 230.7h0M264.5 238.4h0M261.8 234.7h0M264.9 218.5h0M267.9 244.8h0M265.9 217.7h0M266.2 241.0h0M257.0 238.7h0M267.3 237.0h0M269.2 220.2h0M268.5 203.1h0M268.3 231.3h0M268.0 124.9h0M268.2 238.6h0M263.9 224.9h0M251.2 241.8h0M268.3 242.0h0M261.3 238.6h0M261.2 186.4h0M267.0 218.0h0M264.6 226.4h0M254.1 242.2h0M264.9 220.6h0M248.7 243.0h0M253.0 242.0h0M267.6 218.0h0M268.5 219.9h0M268.9 195.8h0M247.7 244.7h0M260.3 230.1h0M253.8 243.0h0M251.5 238.3h0M265.2 239.4h0M253.0 241.6h0M265.1 234.9h0M267.2 244.4h0M269.1 234.0h0M262.2 195.1h0M248.7 243.3h0M252.1 242.1h0M262.3 243.0h0M264.2 236.4h0M268.7 235.5h0M259.1 235.6h0M267.9 193.9h0M263.8 240.5h0M268.1 190.7h0M267.4 216.8h0M266.4 240.3h0M267.7 200.7h0M261.5 227.9h0M269.2 241.8h0M257.7 238.6h0M257.7 228.3h0M234.8 244.6h0M254.4 233.1h0M256.7 242.6h0M268.8 232.3h0M268.1 73.4h0M261.2 222.6h0M247.3 244.5h0M264.6 237.2h0M260.3 235.9h0M243.1 242.6h0M241.2 244.5h0M262.1 244.4h0M265.5 219.0h0M252.3 242.8h0M264.3 230.7h0M253.1 241.1h0M253.4 242.0h0M262.9 214.2h0M266.5 225.6h0M258.9 225.6h0M262.4 236.6h0M246.7 241.0h0M254.5 236.6h0M266.8 242.3h0M259.7 242.1h0M252.1 244.6h0M263.2 241.0h0M246.2 244.6h0M258.1 226.9h0M244.9 243.8h0M239.9 244.4h0M264.7 243.2h0M269.1 244.2h0M267.2 238.4h0M257.1 241.4h0M267.6 238.2h0M259.9 216.1h0M266.5 194.2h0M269.0 204.8h0M247.9 242.1h0M268.4 209.5h0M266.9 243.5h0M248.4 240.2h0M257.8 243.5h0M263.4 178.4h0M261.2 238.8h0M246.3 243.6h0M248.6 242.0h0M261.6 242.4h0M248.4 244.4h0M267.3 238.5h0M262.6 235.7h0M247.9 244.2h0M239.4 244.4h0M268.0 242.6h0M263.9 211.4h0M250.7 232.6h0M253.5 231.1h0M259.7 244.3h0M263.6 206.2h0M268.2 227.2h0M266.2 229.6h0M255.2 215.1h0M242.3 243.8h0M254.5 233.9h0M261.1 214.2h0M268.9 236.5h0M265.2 244.5h0M261.6 237.3h0M264.9 244.4h0M268.8 199.0h0M260.4 240.0h0M261.4 231.0h0M257.6 236.8h0M256.4 234.7h0M256.5 230.7h0M253.4 238.0h0M265.7 234.9h0M265.9 242.5h0M265.5 231.3h0M255.3 236.4h0M266.2 205.1h0M261.8 229.1h0M263.8 236.9h0M268.3 202.5h0M259.7 235.4h0M264.8 241.1h0M267.5 230.2h0M267.6 235.0h0M257.7 234.4h0M263.4 241.3h0M267.7 191.0h0M265.9 227.7h0M257.1 243.4h0M263.7 239.6h0M266.6 233.2h0M267.6 233.2h0M268.7 232.7h0M236.5 244.6h0M266.3 224.5h0M262.5 229.8h0M256.2 243.4h0M267.7 242.3h0M261.4 243.5h0M267.0 243.3h0M265.4 205.7h0M266.1 195.8h0M261.0 222.7h0M261.2 224.2h0M268.0 165.8h0M267.5 233.8h0M260.3 234.9h0M239.3 244.0h0M257.7 237.8h0M259.6 240.8h0M267.4 227.5h0M267.4 171.7h0M264.4 227.1h0M261.1 217.8h0M267.3 244.0h0M260.4 231.0h0M240.1 242.3h0M265.9 225.8h0M262.2 237.1h0M267.5 230.6h0M268.6 82.4h0M251.3 236.0h0M267.2 212.2h0M263.9 227.2h0M257.8 242.1h0M261.9 243.4h0M268.0 231.0h0M268.9 240.8h0M237.7 244.8h0M266.8 190.0h0M268.9 218.0h0M258.3 230.5h0M267.6 234.5h0M253.2 234.5h0M254.2 242.3h0M242.3 241.5h0M262.0 222.7h0M247.2 243.1h0M265.1 225.9h0M267.4 233.4h0M261.9 238.6h0M267.0 236.1h0M254.5 239.9h0M255.7 239.7h0M260.1 225.8h0M268.1 238.0h0M242.4 242.9h0M263.7 207.6h0M257.0 226.0h0M267.1 194.0h0M264.1 204.3h0M246.0 241.9h0M268.3 208.4h0M265.9 237.2h0M264.8 217.1h0M268.9 196.0h0M244.6 243.9h0M265.6 242.2h0M268.7 207.1h0M268.8 95.5h0M268.9 218.6h0M258.1 242.2h0M259.1 234.0h0M268.5 241.3h0M254.3 239.1h0M268.5 238.5h0M262.1 228.6h0M255.1 235.3h0M261.4 235.9h0M260.6 238.6h0M246.7 241.7h0M265.8 243.2h0M262.3 236.4h0M264.6 210.2h0M247.5 235.3h0M266.2 234.5h0M255.8 241.3h0M265.1 224.4h0M253.5 243.1h0M269.2 233.1h0M264.6 237.6h0M257.8 232.2h0M247.9 240.0h0M259.6 231.1h0M268.4 236.3h0M259.0 229.8h0M265.9 242.7h0M255.6 242.0h0M256.7 244.6h0M260.8 229.6h0M258.3 226.3h0M258.1 227.9h0M251.9 243.1h0M262.5 202.5h0M260.7 221.7h0M260.1 235.6h0M259.8 233.6h0M263.1 242.3h0M257.2 209.4h0M269.2 230.4h0M265.2 200.2h0M268.4 128.3h0M237.3 237.2h0M257.5 219.6h0M269.3 222.8h0M252.0 229.6h0M238.5 244.7h0M267.1 200.0h0M260.7 242.3h0M265.2 230.6h0M253.6 243.5h0M268.5 236.0h0M261.4 238.8h0M258.8 241.5h0M246.0 240.2h0M267.2 232.2h0M267.6 240.0h0M262.5 238.5h0M263.5 241.2h0M260.0 219.3h0M264.0 244.5h0M266.8 204.1h0M266.1 215.0h0M267.3 219.4h0M265.9 235.0h0M262.7 240.8h0M268.2 242.8h0M267.5 237.7h0M267.3 218.2h0M264.8 244.3h0M252.1 243.6h0M268.3 170.7h0M265.0 225.5h0M244.3 243.0h0M260.8 199.2h0M261.3 239.1h0M267.9 237.1h0M267.1 240.3h0M257.3 242.6h0M236.5 244.7h0M268.8 218.4h0M263.0 218.9h0M245.2 244.0h0M261.2 232.5h0M263.6 218.1h0M243.0 242.0h0M269.0 228.9h0M256.8 243.4h0M267.8 225.9h0M256.7 242.3h0M269.1 235.2h0M264.4 236.2h0M263.7 211.2h0M266.9 190.3h0M264.2 235.8h0M258.4 237.3h0M255.3 242.4h0M255.3 237.2h0M269.2 234.6h0M238.0 244.8h0M268.1 234.0h0M262.7 222.8h0M267.7 212.6h0M266.5 233.1h0M264.5 237.0h0M268.0 232.2h0M268.9 244.4h0M257.5 242.4h0M248.8 229.4h0M266.1 241.1h0M238.3 244.6h0M247.7 238.4h0M261.8 241.3h0M266.4 149.7h0M256.5 241.3h0M248.7 239.3h0M254.6 234.1h0M268.6 161.1h0M261.6 203.0h0M267.9 239.7h0M256.5 242.8h0M252.0 242.3h0M268.1 201.1h0M262.8 243.6h0M266.8 236.4h0M267.7 238.0h0M267.0 224.0h0M263.0 221.8h0M267.2 151.1h0M256.7 239.3h0M262.4 238.0h0M263.1 228.5h0M260.9 234.3h0M268.3 212.5h0M267.2 237.5h0M263.8 213.7h0M258.6 219.3h0M269.1 200.3h0M262.4 228.0h0M267.3 128.1h0M264.8 239.7h0M246.1 243.9h0M267.1 217.0h0M261.9 243.5h0M249.7 243.6h0M252.4 230.4h0M251.3 243.8h0M249.1 244.6h0M252.3 243.5h0M267.9 242.9h0M268.0 220.3h0M259.0 236.6h0M264.9 227.0h0M268.9 221.3h0M251.8 244.4h0M265.5 242.9h0M255.0 233.2h0M269.0 218.0h0M267.6 241.7h0M269.1 217.6h0M268.7 236.7h0M265.9 233.2h0M262.0 230.3h0M254.4 244.8h0M253.6 242.9h0M254.1 244.3h0M263.9 217.9h0M259.5 239.5h0M258.7 205.4h0M262.9 226.6h0M264.9 229.5h0M267.8 223.9h0M265.3 241.8h0M266.1 155.1h0M263.0 212.0h0M258.2 228.3h0M267.9 242.9h0M258.9 225.4h0M263.7 239.3h0M250.5 242.8h0M258.5 240.0h0M256.8 231.3h0M265.4 227.6h0M268.1 244.1h0M265.1 227.4h0M269.0 238.8h0M238.2 244.8h0M268.5 222.8h0M266.7 201.3h0M264.7 237.7h0M266.6 243.9h0M249.9 232.1h0M267.8 213.1h0M262.4 239.8h0M265.6 168.2h0M267.5 222.8h0M264.8 214.5h0M260.8 234.8h0M268.3 243.0h0M263.5 205.4h0M264.1 211.0h0M259.2 221.0h0M258.9 207.5h0M260.8 233.5h0M252.6 235.4h0M269.0 210.9h0M264.8 216.1h0M255.6 244.5h0M266.8 216.5h0M264.5 244.2h0M265.3 217.9h0M266.1 240.7h0M266.2 231.0h0M265.6 219.1h0M266.3 240.5h0M252.7 243.1h0M263.4 242.6h0M268.2 242.8h0M250.1 242.4h0M265.0 241.7h0M258.4 239.5h0M265.7 232.0h0M267.3 231.3h0M263.2 243.8h0M256.2 244.0h0M254.5 243.2h0M257.5 235.1h0M262.0 242.1h0M268.3 220.5h0M267.5 224.7h0M252.3 242.1h0M268.2 230.0h0M264.0 198.7h0M268.2 235.4h0M262.2 235.8h0M248.0 235.4h0M267.8 228.4h0M268.6 235.8h0M258.5 243.4h0M259.7 227.8h0M260.0 239.7h0M269.0 213.5h0M251.6 240.3h0M265.6 182.3h0M262.7 242.2h0M254.9 243.0h0M261.3 225.8h0M269.2 192.6h0M259.2 212.3h0M269.2 244.0h0M257.3 240.9h0M258.0 243.0h0M254.5 227.8h0M265.2 214.2h0M246.5 242.5h0M265.2 243.8h0M259.7 219.8h0M266.0 233.8h0M254.1 244.8h0M266.3 230.3h0M263.9 224.3h0M263.0 221.2h0M262.4 234.7h0M258.0 242.3h0M262.6 227.5h0M268.7 197.4h0M265.8 219.5h0M265.8 237.6h0M268.9 203.3h0M250.5 238.9h0M256.3 243.8h0M263.9 219.1h0M266.3 238.8h0M262.1 205.0h0M255.3 226.9h0M264.8 239.3h0M262.6 236.2h0M266.9 206.3h0M266.2 202.1h0M265.8 244.6h0M253.7 243.8h0M259.2 238.0h0M268.4 177.7h0M268.7 189.7h0M259.5 240.4h0M261.1 238.1h0M268.2 238.8h0M268.1 207.5h0M263.0 230.4h0M253.8 234.0h0M251.0 244.1h0M253.9 243.0h0M267.9 236.6h0M258.5 232.5h0M262.5 244.0h0M249.3 240.5h0M266.0 207.0h0M250.3 242.9h0M260.7 241.2h0M259.9 232.1h0M264.0 217.9h0M268.7 232.6h0M253.6 236.4h0M269.1 223.3h0M255.1 240.9h0M262.2 243.3h0M268.8 119.0h0M268.3 231.2h0M262.2 229.0h0M260.3 236.6h0M266.4 239.7h0M262.1 223.2h0M266.0 232.9h0M261.9 193.3h0M268.5 236.5h0M265.7 243.9h0M267.5 145.5h0M267.9 235.4h0M265.2 216.3h0M264.0 220.3h0M261.9 204.6h0M261.9 231.9h0M237.2 242.5h0M262.2 237.0h0M268.2 238.9h0M237.9 243.4h0M236.4 244.0h0M263.6 235.5h0M259.1 224.8h0M261.4 230.1h0M256.9 238.4h0M260.9 211.3h0M257.7 228.8h0M263.0 215.1h0M268.0 242.2h0M251.9 240.1h0M267.7 207.0h0M259.4 239.9h0M262.5 235.7h0M262.9 233.7h0M247.1 239.0h0M263.8 237.5h0M267.9 193.7h0M263.6 226.4h0M266.2 230.9h0M269.2 217.7h0M257.7 244.7h0M247.2 232.7h0M251.0 240.4h0M264.4 234.9h0M263.2 240.2h0M266.0 236.8h0M251.6 244.8h0M259.2 228.4h0M269.2 188.5h0M267.8 212.8h0M265.9 228.2h0M264.1 232.2h0M239.5 244.6h0M261.7 231.2h0M267.5 243.8h0M260.9 233.8h0M267.2 238.0h0M253.5 235.4h0M266.2 232.8h0M257.5 243.1h0M266.3 230.0h0M258.0 221.1h0M265.7 223.1h0M267.5 191.5h0M268.6 197.8h0M267.5 236.9h0M255.7 243.6h0M269.3 235.2h0M262.6 243.5h0M265.2 227.0h0M267.9 170.3h0M264.6 239.6h0M261.6 237.9h0M259.5 240.6h0M240.2 241.8h0M258.2 242.4h0M268.5 162.7h0M261.1 228.9h0M249.3 243.6h0M264.1 219.5h0M264.1 164.0h0M245.5 239.2h0M267.4 242.1h0M255.9 239.1h0M263.5 234.3h0M259.4 243.0h0M263.8 229.3h0M267.5 227.6h0M266.8 208.1h0M242.2 244.2h0M266.3 239.9h0M266.1 236.7h0M259.4 241.0h0M267.2 210.5h0M263.8 243.0h0M237.2 244.7h0M269.1 243.4h0M260.8 224.6h0M267.8 229.7h0M269.3 201.0h0M259.1 240.9h0M262.7 225.7h0M266.6 188.8h0M251.5 243.0h0M266.1 244.7h0M260.2 231.9h0M258.2 244.2h0M267.6 223.3h0M241.3 241.6h0M268.0 236.5h0M263.1 243.0h0M268.0 219.1h0M253.4 243.8h0M239.9 241.6h0M268.7 232.5h0M258.3 239.9h0M266.5 232.9h0M268.7 156.7h0M269.0 196.4h0M251.2 233.1h0M259.5 226.3h0M268.6 222.8h0M263.0 237.0h0M259.9 233.9h0M263.5 241.1h0M254.3 230.4h0M263.1 226.6h0M244.4 244.7h0M262.8 191.0h0M262.2 244.2h0M263.6 220.3h0M267.6 243.1h0M238.6 242.9h0M264.7 220.5h0M267.8 157.0h0M258.0 244.2h0M242.8 243.9h0M262.0 238.6h0M269.1 215.8h0M251.7 244.6h0M264.7 214.6h0M267.8 200.5h0M264.4 239.7h0M255.1 222.4h0M269.2 240.4h0M258.5 224.2h0M259.4 242.9h0M267.7 222.2h0M252.7 243.9h0M266.8 217.0h0M263.7 229.1h0M267.2 217.9h0M267.2 215.1h0M266.5 244.8h0M264.1 231.1h0M265.7 237.4h0M245.7 244.0h0M267.5 236.4h0M266.6 180.2h0M241.7 240.9h0M264.8 230.9h0M265.3 222.4h0M254.8 241.0h0M246.6 237.4h0M264.6 219.6h0M265.5 230.5h0M264.3 240.2h0M268.0 232.2h0M254.1 241.8h0M241.5 244.1h0M264.4 208.6h0M254.2 239.9h0M253.2 242.0h0M267.0 224.4h0M255.2 243.1h0M255.5 243.0h0M256.3 221.0h0M268.8 231.3h0M240.0 244.1h0M268.5 241.7h0M250.6 241.3h0M255.7 241.3h0M259.9 237.9h0M248.1 240.1h0M268.3 244.7h0M257.2 234.6h0M267.0 239.9h0M235.3 243.3h0M256.1 240.0h0M248.3 227.8h0M259.8 243.7h0M261.6 241.0h0M264.6 217.8h0M267.7 236.4h0M263.6 224.0h0M252.2 234.4h0M269.2 213.7h0M255.2 242.4h0M263.9 239.7h0M266.0 231.9h0M268.1 209.4h0M264.3 221.1h0M264.5 239.3h0M269.0 241.5h0M252.3 242.9h0M257.3 236.9h0M246.2 233.3h0M266.7 221.1h0M267.4 176.9h0M253.9 233.6h0M267.8 225.8h0M247.9 243.6h0M258.3 239.5h0M253.8 237.1h0M254.4 243.7h0M265.6 227.3h0M266.3 241.1h0M265.9 213.4h0M267.2 224.8h0M241.8 242.5h0M261.9 219.8h0M262.0 244.2h0M256.2 243.7h0M267.6 215.5h0M244.8 243.4h0M267.6 212.5h0M268.5 222.9h0M266.2 234.5h0M261.3 243.5h0M263.7 238.8h0M254.0 241.5h0M244.1 244.0h0M267.3 233.9h0M253.5 236.5h0M240.0 243.5h0M264.5 224.2h0M265.8 234.6h0M268.0 224.5h0M266.1 230.5h0M267.8 230.6h0M265.6 236.8h0M264.9 241.6h0M254.4 243.1h0M267.8 241.4h0M253.6 244.3h0M267.9 217.7h0M268.8 218.3h0M269.0 243.3h0M255.0 231.4h0M267.6 240.7h0M264.7 165.5h0M262.8 231.6h0M262.9 237.3h0M259.0 224.4h0M268.5 211.8h0M263.1 220.1h0M261.6 239.9h0M260.9 227.6h0M261.5 206.3h0M264.6 240.9h0M252.9 237.3h0M256.9 244.6h0M268.7 238.4h0M266.2 199.4h0M267.8 244.0h0M260.1 212.7h0M268.6 244.0h0M266.6 235.9h0M261.2 232.4h0M245.9 242.0h0M268.1 244.8h0M266.9 192.0h0M262.2 230.6h0M267.0 201.5h0M266.3 217.8h0M268.5 221.0h0M266.0 241.8h0M265.4 160.7h0M267.7 244.3h0M258.4 236.7h0M255.7 240.9h0M266.1 236.3h0M235.2 243.5h0M256.6 239.6h0M268.4 186.8h0M267.6 242.0h0M267.0 221.1h0M253.4 243.4h0M266.8 230.9h0M259.6 241.0h0M266.6 205.7h0M268.2 236.6h0M256.0 244.3h0M269.1 212.1h0M251.4 244.3h0M265.3 191.6h0M260.4 242.5h0M266.6 229.2h0M265.0 183.6h0M263.6 222.5h0M234.9 244.7h0M261.4 210.4h0M257.6 240.1h0M264.1 214.5h0M266.3 244.3h0M265.3 215.1h0M264.5 222.5h0M256.7 240.1h0M258.3 235.9h0M257.3 238.7h0M267.5 206.7h0M265.3 241.8h0M261.9 243.1h0M258.5 224.1h0M268.3 227.9h0M265.2 243.2h0M268.7 208.2h0M260.5 244.5h0M252.9 244.2h0M268.2 231.3h0M258.3 239.1h0M268.4 240.1h0M266.1 243.2h0M266.3 221.3h0M268.5 194.5h0M266.2 238.2h0M263.4 238.1h0M249.3 242.7h0M252.0 237.1h0M259.2 239.7h0M253.5 235.2h0M265.9 229.4h0M263.2 239.6h0M268.3 237.4h0M262.6 236.6h0M265.8 243.2h0M264.1 217.9h0M254.3 244.0h0M260.9 239.0h0M266.1 229.3h0M259.7 241.1h0M267.5 192.2h0M265.1 207.7h0M268.4 243.7h0M252.9 243.4h0M268.6 216.1h0M264.7 227.4h0M251.4 243.5h0M269.2 182.9h0M262.9 227.1h0M243.1 244.6h0M267.6 199.6h0M266.0 236.2h0M248.0 234.5h0M265.9 205.1h0M242.5 243.1h0M266.1 228.3h0M265.6 236.1h0M262.0 238.7h0M262.3 186.2h0M234.7 243.7h0M267.4 214.7h0M266.2 236.6h0M262.6 190.9h0M265.0 214.7h0M258.6 236.7h0M262.8 238.5h0M268.1 160.6h0M257.9 236.4h0M266.0 208.6h0M261.6 239.2h0M265.6 183.7h0M268.6 240.1h0M264.0 228.0h0M261.3 234.0h0M262.1 234.1h0M268.1 242.0h0M245.7 239.3h0M268.0 243.3h0M248.0 244.0h0M266.6 239.6h0M264.9 235.9h0M266.1 137.5h0M267.0 229.5h0M258.8 237.9h0M268.1 243.6h0M262.8 190.9h0M268.5 218.2h0M261.8 235.2h0M262.7 239.3h0M269.0 163.8h0M254.6 229.7h0M268.2 209.8h0M266.6 203.8h0M268.8 232.0h0M265.8 231.9h0M269.3 239.7h0M268.5 115.0h0M256.1 219.3h0M266.3 239.8h0M263.6 230.8h0M263.1 234.9h0M268.7 204.5h0M269.0 199.6h0M257.3 240.9h0M243.5 244.4h0M256.8 239.6h0M259.9 237.6h0M264.9 231.4h0M264.7 239.1h0M260.4 239.5h0M268.7 232.8h0M267.6 208.4h0M262.5 244.1h0M257.8 235.6h0M240.9 244.1h0M262.2 244.7h0M262.2 235.5h0M262.3 220.2h0M242.8 242.4h0M254.7 243.6h0M268.7 233.3h0M268.2 220.4h0M265.2 215.5h0M266.4 240.4h0M266.3 241.2h0M267.8 242.5h0M241.2 244.8h0M256.5 237.8h0M267.6 229.9h0M267.6 222.7h0M264.2 217.4h0M257.6 226.9h0M245.2 243.8h0M266.3 215.4h0M235.5 244.8h0M265.2 209.9h0M262.4 238.2h0M267.8 224.6h0M261.4 233.6h0M262.1 234.1h0M258.9 237.6h0M260.4 243.0h0M256.0 234.1h0M256.7 235.2h0M267.1 220.7h0M262.2 222.7h0M267.5 217.7h0M267.6 240.3h0M262.5 240.6h0M264.7 215.8h0M249.4 241.5h0M248.5 240.0h0M263.7 180.0h0M265.6 209.2h0M255.9 223.6h0M247.8 237.1h0M245.0 242.0h0M266.2 215.5h0M262.3 232.2h0M258.1 230.4h0M268.5 216.7h0M257.1 205.9h0M256.3 229.3h0M249.3 239.0h0M243.2 243.2h0M264.7 232.2h0M260.7 197.1h0M258.2 210.1h0M266.0 220.6h0M243.1 243.0h0M254.6 232.1h0M263.1 231.2h0M267.2 238.0h0M268.8 205.2h0M265.5 173.2h0M244.2 244.3h0M269.0 194.2h0M250.9 244.1h0M265.3 232.8h0M267.7 238.9h0M267.1 239.7h0M267.2 175.0h0M260.1 244.1h0M265.8 217.6h0M268.9 238.6h0M262.2 182.7h0M250.9 133.2h0M266.0 201.4h0M258.6 175.3h0M242.1 187.1h0M257.4 77.6h0M264.9 221.3h0M260.8 73.2h0M261.0 130.7h0M251.1 152.3h0M260.8 229.1h0M261.5 102.9h0M267.3 96.3h0M266.9 89.0h0M266.3 87.7h0M264.3 218.0h0M265.3 71.2h0M262.2 212.1h0M257.9 84.0h0M268.1 210.7h0M257.7 226.9h0M267.9 177.0h0M260.1 68.6h0M265.1 224.3h0M268.0 242.6h0M259.9 122.7h0M267.5 161.6h0M267.7 125.9h0M246.7 220.8h0M242.3 159.4h0M252.8 119.8h0M266.0 220.5h0M239.1 222.1h0M259.7 88.4h0M261.0 114.1h0M267.4 217.8h0M256.1 205.5h0M267.9 148.1h0M254.4 173.7h0M253.5 227.4h0M266.2 116.3h0M264.7 228.9h0M252.0 176.6h0M248.8 124.4h0M266.2 222.4h0M265.0 198.6h0M247.2 117.2h0M253.1 127.3h0M263.5 27.4h0M249.7 27.4h0M252.0 27.4h0M249.1 27.4h0M264.4 27.4h0M265.2 27.4h0M269.1 27.4h0M251.6 27.4h0M253.9 27.4h0M258.8 27.4h0M268.2 27.4h0M261.9 27.4h0M260.0 27.4h0M267.4 27.4h0M255.8 27.4h0M265.3 27.4h0M254.5 27.4h0M263.6 27.4h0M249.6 27.4h0M249.5 27.4h0M257.3 27.4h0M265.9 27.4h0M251.9 27.4h0M269.3 27.4h0M256.4 27.4h0M251.8 27.4h0M249.2 27.4h0M252.4 27.4h0M260.2 27.4h0M251.4 27.4h0M250.7 27.4h0M257.2 27.4h0M255.1 27.4h0M261.4 27.4h0M258.1 27.4h0M252.1 27.4h0M266.1 27.4h0M248.9 27.4h0M260.0 27.4h0M251.3 27.4h0M267.3 27.4h0M257.8 27.4h0M254.1 27.4h0M268.0 27.4h0M251.9 27.4h0M260.5 27.4h0M261.7 27.4h0M256.4 27.4h0M257.0 27.4h0M267.5 27.4h0M261.5 27.4h0M268.7 27.4h0M256.7 27.4h0M266.5 27.4h0M254.2 27.4h0M258.1 27.4h0M248.2 27.4h0M262.6 27.4h0M264.4 27.4h0M251.0 27.4h0M268.6 27.4h0M260.8 27.4h0M248.8 27.4h0M266.1 27.4h0M256.3 27.4h0M265.9 27.4h0M255.1 27.4h0M261.1 27.4h0M261.2 27.4h0M249.3 27.4h0M244.2 90.9h0M248.6 88.5h0M233.1 192.6h0M233.5 197.9h0M235.9 215.8h0M241.4 215.9h0M228.8 230.3h0M238.8 233.8h0M240.0 186.0h0M251.0 180.0h0M185.2 236.1h0M185.4 236.3h0M191.7 240.4h0M184.3 235.2h0M199.2 243.1h0M181.0 231.5h0M192.7 240.9h0M187.7 238.1h0M185.0 235.9h0M192.9 241.0h0M192.7 240.9h0M200.0 243.3h0M196.3 242.3h0M180.9 231.5h0M199.0 243.0h0M183.4 234.3h0M184.8 235.7h0M188.5 238.6h0M186.0 236.7h0M185.4 236.3h0M184.2 235.2h0M183.7 234.7h0M186.4 237.1h0M198.8 243.0h0M182.1 233.0h0M177.9 227.0h0M198.0 242.8h0M183.5 234.4h0M188.2 238.4h0M194.6 241.7h0M186.3 237.0h0M184.2 235.2h0M182.1 232.9h0M188.6 238.7h0M174.1 222.8h0" stroke="#6cb55a" stroke-width="2.8" stroke-linecap="round" fill="none"/>
<path d="M298.5 193.4h0M285.9 216.1h0M284.9 206.6h0M292.6 193.8h0M289.6 94.0h0M298.0 230.7h0M285.2 102.8h0M289.3 198.4h0M286.2 197.0h0M285.3 161.2h0M298.8 110.3h0M290.7 194.5h0M286.2 195.9h0M286.2 202.6h0M286.2 237.1h0M285.4 72.7h0M286.6 242.9h0M292.5 126.7h0M286.4 33.7h0M287.1 139.9h0M284.7 55.8h0M292.8 86.1h0M292.2 193.4h0M285.3 244.3h0M286.4 137.0h0M289.0 243.8h0M287.7 177.4h0M299.3 226.4h0M290.9 170.8h0M289.0 194.4h0M285.0 244.7h0M287.6 202.9h0M296.4 229.3h0M286.8 243.2h0M295.9 131.5h0M291.2 44.5h0M296.0 237.6h0M288.1 234.3h0M288.2 55.1h0M289.7 147.6h0M287.8 241.9h0M288.3 194.4h0M289.5 196.2h0M288.9 221.6h0M294.0 242.3h0M290.3 223.2h0M295.0 230.6h0M293.2 141.3h0M285.5 220.1h0M299.5 237.6h0M290.7 244.5h0M287.1 190.6h0M285.1 186.5h0M285.2 112.5h0M290.9 244.8h0M299.7 163.5h0M299.2 161.7h0M289.4 110.0h0M288.9 237.2h0M285.8 242.9h0M289.7 226.6h0M295.0 244.7h0M287.8 212.1h0M288.2 238.9h0M289.7 182.9h0M288.5 200.3h0M289.5 197.7h0M290.6 31.9h0M295.4 154.6h0M292.0 197.2h0M292.9 148.8h0M297.3 244.8h0M285.0 166.7h0M294.0 173.8h0M291.3 224.7h0M296.8 243.6h0M287.1 214.9h0M288.4 199.3h0M286.1 239.8h0M286.6 205.0h0M290.2 192.0h0M295.8 145.1h0M297.0 239.9h0M288.9 124.9h0M296.0 159.2h0M290.9 242.8h0M284.8 239.5h0M298.0 73.2h0M286.2 242.7h0M296.0 127.4h0M290.1 230.3h0M290.0 189.7h0M298.9 235.7h0M286.9 44.6h0M286.4 44.6h0M290.2 235.3h0M286.6 232.6h0M298.5 244.0h0M299.3 125.0h0M296.5 202.4h0M296.5 126.8h0M288.9 240.6h0M285.2 172.5h0M287.8 224.5h0M288.7 243.2h0M291.0 184.5h0M295.8 192.8h0M295.9 233.2h0M291.3 84.3h0M300.0 236.4h0M297.4 91.8h0M287.8 237.4h0M287.0 242.4h0M285.7 225.4h0M294.0 191.1h0M290.9 234.4h0M290.1 228.9h0M298.2 243.6h0M296.5 72.4h0M288.6 218.8h0M292.0 143.3h0M287.4 118.9h0M284.8 225.5h0M284.7 216.5h0M297.8 241.4h0M285.1 33.7h0M296.6 202.7h0M299.7 243.6h0M292.7 166.8h0M296.8 210.4h0M297.7 221.9h0M296.6 237.1h0M286.5 237.8h0M289.1 224.2h0M286.4 122.2h0M286.7 235.1h0M285.5 192.7h0M288.3 205.6h0M295.5 113.2h0M284.9 244.8h0M286.2 33.9h0M296.5 139.8h0M295.1 90.2h0M296.3 244.8h0M297.3 205.9h0M300.0 244.5h0M293.9 242.9h0M287.9 223.1h0M297.6 120.2h0M290.5 174.5h0M295.0 244.3h0M286.3 242.3h0M297.7 212.2h0M287.3 149.6h0M286.6 233.3h0M289.6 99.2h0M285.9 238.8h0M285.6 237.8h0M284.7 37.4h0M286.1 244.8h0M293.4 229.7h0M291.4 216.8h0M289.4 227.3h0M295.8 86.9h0M285.7 192.6h0M286.3 190.4h0M286.3 217.9h0M287.5 95.1h0M290.0 49.3h0M297.7 115.2h0M289.4 181.4h0M295.0 226.3h0M284.8 244.6h0M291.3 43.2h0M287.9 243.8h0M299.4 243.3h0M290.5 244.9h0M287.2 244.1h0M287.5 217.1h0M285.3 113.1h0M288.2 147.1h0M292.6 29.7h0M295.8 183.4h0M295.0 189.9h0M298.4 223.3h0M298.7 221.3h0M285.2 172.8h0M286.6 243.7h0M285.4 234.4h0M286.9 204.0h0M285.6 227.2h0M286.3 163.0h0M284.7 221.5h0M285.8 239.3h0M299.9 226.8h0M291.2 203.2h0M288.9 243.3h0M287.7 72.0h0M292.4 183.9h0M291.6 244.0h0M285.4 227.3h0M285.6 244.5h0M299.8 149.5h0M291.5 180.1h0M288.3 175.2h0M297.5 135.4h0M286.2 213.1h0M284.8 177.4h0M291.2 204.3h0M285.0 211.0h0M289.6 137.8h0M285.9 156.0h0M284.7 216.2h0M289.2 217.9h0M289.9 219.9h0M286.0 139.5h0M290.0 230.2h0M286.1 242.5h0M296.8 241.9h0M285.5 159.5h0M285.5 191.2h0M297.8 227.1h0M285.0 137.1h0M288.7 101.4h0M286.2 152.4h0M298.7 170.8h0M289.2 216.7h0M285.7 60.0h0M298.9 75.2h0M290.3 205.3h0M299.3 231.5h0M289.6 69.6h0M290.1 183.4h0M292.3 243.2h0M297.7 243.1h0M284.8 239.6h0M284.8 219.6h0M290.3 242.4h0M285.1 191.0h0M287.7 51.0h0M284.7 30.9h0M297.4 217.0h0M298.6 191.6h0M285.1 106.5h0M291.3 236.9h0M291.6 230.9h0M287.6 113.0h0M298.8 226.0h0M286.2 90.3h0M288.2 244.5h0M296.0 119.3h0M287.3 224.6h0M286.4 239.1h0M294.1 149.3h0M286.0 202.4h0M297.9 241.2h0M298.5 243.5h0M290.5 236.6h0M295.1 203.1h0M286.8 78.6h0M291.1 192.3h0M287.2 120.3h0M286.8 237.0h0M297.0 187.8h0M288.6 231.2h0M285.4 235.3h0M287.9 243.9h0M291.4 85.5h0M284.8 88.0h0M290.5 66.3h0M285.1 151.2h0M296.8 82.6h0M287.6 126.0h0M290.2 223.1h0M288.4 196.9h0M291.8 238.6h0M290.5 192.8h0M294.2 238.7h0M297.7 183.3h0M287.6 234.7h0M285.6 147.8h0M284.8 185.1h0M298.6 241.9h0M284.9 189.5h0M284.8 244.3h0M295.6 218.0h0M285.2 231.2h0M294.5 237.3h0M297.0 170.8h0M288.0 147.3h0M291.4 145.4h0M298.3 75.8h0M285.5 220.0h0M289.7 150.1h0M287.7 153.4h0M296.0 235.7h0M295.1 121.4h0M295.9 139.5h0M286.3 111.4h0M286.0 119.2h0M292.6 244.4h0M284.8 239.9h0M290.3 65.6h0M295.5 102.9h0M285.5 244.9h0M298.4 166.0h0M286.3 117.7h0M289.5 58.8h0M284.8 205.8h0M284.7 139.8h0M289.0 210.4h0M290.3 241.9h0M294.3 207.3h0M285.8 43.2h0M296.4 207.8h0M288.6 226.9h0M286.0 207.1h0M287.4 226.6h0M284.7 243.5h0M292.2 113.5h0M296.4 58.3h0M285.9 239.5h0M285.1 153.5h0M285.9 199.6h0M299.5 204.1h0M291.5 238.9h0M294.4 233.3h0M298.5 239.4h0M286.1 56.6h0M299.7 37.1h0M291.5 240.7h0M295.4 182.7h0M287.8 193.5h0M288.8 118.0h0M291.2 233.0h0M286.1 231.9h0M288.9 136.3h0M287.1 92.4h0M296.7 182.0h0M285.1 166.8h0M289.1 72.6h0M285.4 233.6h0M293.9 242.6h0M296.3 194.3h0M296.5 240.2h0M298.5 147.0h0M289.4 210.2h0M287.2 241.8h0M291.6 230.4h0M285.9 156.7h0M296.7 127.8h0M285.7 105.8h0M298.4 35.8h0M287.3 242.2h0M285.1 203.6h0M290.4 184.3h0M298.3 177.1h0M286.9 185.9h0M296.0 236.0h0M296.1 149.7h0M292.5 29.0h0M284.8 238.0h0M288.4 176.9h0M288.4 199.6h0M295.3 162.8h0M284.7 236.2h0M294.7 96.0h0M284.7 161.3h0M288.0 208.9h0M290.4 244.8h0M286.9 116.3h0M299.2 51.0h0M294.8 36.7h0M290.5 53.9h0M285.6 175.6h0M286.7 226.7h0M295.2 232.3h0M285.5 223.7h0M297.2 49.9h0M285.2 181.7h0M299.4 242.3h0M286.9 174.9h0M295.9 244.9h0M297.8 152.1h0M284.7 222.0h0M284.8 34.9h0M284.8 213.7h0M293.8 40.9h0M294.4 226.0h0M289.5 244.7h0M297.4 45.3h0M289.2 207.1h0M286.5 85.2h0M292.5 163.1h0M289.8 32.1h0M297.1 243.9h0M287.3 37.4h0M289.0 86.1h0M289.8 228.9h0M285.4 209.7h0M286.9 227.4h0M289.3 181.8h0M294.8 200.4h0M299.1 65.9h0M285.0 77.3h0M291.3 244.7h0M296.2 66.7h0M288.4 156.7h0M286.3 191.7h0M296.6 206.9h0M287.0 230.9h0M287.2 103.2h0M290.7 244.8h0M292.0 137.1h0M297.7 216.6h0M284.7 243.2h0M286.8 156.0h0M289.3 175.4h0M297.2 74.2h0M293.8 187.0h0M299.7 240.1h0M288.9 37.4h0M295.3 201.1h0M286.8 244.5h0M287.3 244.3h0M284.8 110.9h0M285.1 134.0h0M293.0 244.5h0M286.1 209.3h0M291.6 141.1h0M292.3 76.5h0M285.0 241.2h0M284.8 242.0h0M286.8 115.7h0M284.7 227.3h0M293.2 179.8h0M285.0 242.4h0M292.8 226.0h0M286.0 164.2h0M285.7 243.5h0M289.3 243.1h0M292.8 232.2h0M287.1 242.6h0M312.8 240.6h0M289.6 227.9h0M294.0 244.4h0M316.0 244.5h0M308.2 238.7h0M287.2 243.3h0M286.5 230.8h0M299.8 239.5h0M302.0 243.2h0M292.0 233.9h0M302.9 242.3h0M288.7 241.6h0M297.9 241.9h0M297.6 241.3h0M289.9 224.4h0M296.2 244.8h0M294.4 235.8h0M301.8 236.2h0M305.4 239.7h0M301.3 240.0h0M288.3 231.8h0M285.6 242.6h0M318.1 240.7h0M298.8 235.9h0M300.7 238.3h0M287.1 234.9h0M309.3 242.1h0M284.8 227.8h0M289.6 239.3h0M291.2 230.8h0M284.7 242.9h0M305.1 243.0h0M303.4 240.6h0M288.5 229.3h0M289.7 236.5h0M295.5 241.6h0M306.3 242.5h0M299.8 242.9h0M310.8 243.2h0M302.7 241.2h0M313.5 243.5h0M294.8 233.2h0M287.1 228.7h0M303.9 238.4h0M293.2 236.5h0M296.2 241.7h0M293.3 239.5h0M299.1 244.4h0M286.7 227.5h0M286.9 224.1h0M285.3 226.1h0M293.8 244.1h0M303.5 242.5h0M309.7 238.2h0M292.3 240.5h0M320.3 244.3h0M295.9 237.6h0M287.5 232.0h0M292.8 231.2h0M284.9 226.2h0M296.5 232.5h0M318.7 244.7h0M302.5 244.2h0M286.8 243.7h0M286.1 230.5h0M297.7 234.9h0M294.6 242.2h0M285.8 224.3h0M309.7 241.1h0M318.7 241.8h0M292.9 241.6h0M292.6 231.6h0M286.0 241.3h0M285.2 232.6h0M286.0 226.3h0M314.3 243.2h0M291.9 232.4h0M286.4 223.5h0M301.2 242.0h0M295.6 241.0h0M294.7 236.9h0M287.5 230.2h0M290.4 240.9h0M292.5 229.4h0M297.7 237.3h0M299.5 240.7h0M288.4 240.4h0M285.9 229.4h0M289.2 229.4h0M289.6 244.2h0M295.6 237.4h0M311.0 243.4h0M295.4 234.0h0M295.2 239.1h0M295.9 236.2h0M308.6 242.7h0M296.3 237.9h0M300.5 235.3h0M286.0 238.1h0M289.5 241.6h0M302.0 237.4h0M308.0 237.4h0M298.8 235.4h0M304.8 243.2h0M297.8 242.5h0M287.0 238.2h0M290.4 233.4h0M306.0 243.6h0M289.1 233.5h0M291.0 241.1h0M297.7 230.7h0M307.2 240.9h0M289.2 229.4h0M296.8 235.5h0M288.5 244.6h0M315.0 242.7h0M291.6 238.6h0M285.4 244.4h0M299.3 235.5h0M316.0 241.6h0M301.1 241.7h0M295.9 236.8h0M294.6 236.6h0M287.5 231.1h0M305.9 240.2h0M308.8 237.3h0M286.8 240.0h0M291.0 225.4h0M300.1 233.7h0M300.0 238.3h0M304.2 239.9h0M297.2 234.4h0M306.6 237.7h0M288.0 229.7h0M288.6 233.7h0M287.1 234.6h0M288.2 233.5h0M296.4 237.6h0M308.6 244.2h0M290.5 234.8h0M292.7 232.6h0M290.1 232.2h0M295.2 235.0h0M298.1 234.0h0M290.3 228.0h0M307.2 240.1h0M289.3 234.1h0M284.7 233.8h0M286.3 223.0h0M287.3 232.3h0M306.2 244.4h0M287.3 234.1h0M298.6 234.9h0M311.1 244.7h0M292.9 226.5h0M287.8 240.9h0M301.1 235.9h0M286.7 228.4h0M296.9 239.2h0M314.8 240.9h0M287.4 239.7h0M308.5 241.9h0M296.9 232.9h0M288.3 233.7h0M318.6 242.2h0M305.2 238.1h0M295.5 236.4h0M291.0 238.6h0M292.8 239.3h0M288.3 233.9h0M301.3 232.8h0M286.7 244.3h0M296.6 242.9h0M291.0 236.6h0M294.4 240.1h0M285.4 238.8h0M303.8 236.4h0M298.7 240.5h0M286.4 240.7h0M286.4 231.1h0M287.5 232.3h0M306.7 240.0h0M305.5 238.4h0M290.3 233.3h0M306.0 237.3h0M289.7 242.3h0M299.3 239.1h0M288.7 227.2h0M292.8 239.2h0M287.2 234.1h0M306.5 236.2h0M306.7 239.9h0M292.6 241.8h0M294.7 236.2h0M310.0 239.9h0M292.3 244.0h0M297.0 231.0h0M299.9 242.1h0M284.8 243.3h0M290.9 235.2h0M308.7 239.8h0M306.3 233.3h0M298.6 240.1h0M290.4 231.8h0M284.9 221.3h0M313.6 243.7h0M303.9 243.0h0M295.1 236.0h0M296.8 237.2h0M310.6 237.9h0M287.0 244.1h0M291.2 226.4h0M293.8 244.6h0M306.3 238.0h0M301.8 234.5h0M308.9 240.9h0M321.5 243.6h0M289.5 226.1h0M292.4 236.3h0M322.0 243.9h0M296.6 234.7h0M309.1 244.5h0M292.5 234.9h0M285.5 244.4h0M292.4 228.8h0M290.2 237.2h0M307.3 238.0h0M295.9 235.5h0M285.9 236.8h0M299.1 232.4h0M290.7 241.0h0M294.3 242.9h0M290.2 227.9h0M296.0 243.8h0M292.2 226.8h0M286.1 239.2h0M295.0 236.0h0M292.4 235.6h0M288.2 233.9h0M298.4 239.9h0M286.4 237.1h0M291.4 233.0h0M295.5 234.0h0M288.5 238.2h0M298.3 241.0h0M284.9 224.8h0M304.5 240.2h0M306.1 232.3h0M296.4 240.7h0M297.5 242.4h0M314.6 243.2h0M309.6 242.4h0M293.4 240.1h0M290.0 236.3h0M290.3 239.9h0M294.6 230.8h0M302.1 237.3h0M287.0 235.4h0M299.1 241.2h0M303.4 235.7h0M286.1 226.8h0M304.3 236.6h0M309.2 244.3h0M301.5 234.3h0M298.4 242.9h0M291.8 236.0h0M297.8 244.3h0M285.9 243.3h0M293.6 236.5h0M285.6 223.8h0M306.0 241.6h0M305.9 236.2h0M285.9 236.1h0M288.9 235.6h0M297.0 243.7h0M287.5 232.0h0M309.1 243.5h0M309.3 243.9h0M289.3 233.8h0M293.6 232.6h0M293.1 241.2h0M291.5 228.3h0M305.8 243.8h0M293.3 226.5h0M305.3 236.4h0M295.6 231.1h0M290.1 238.7h0M288.1 236.1h0M308.2 240.1h0M285.8 239.1h0M307.4 244.8h0M287.9 243.7h0M286.6 227.4h0M310.8 242.4h0M291.6 236.5h0M316.5 244.3h0M298.9 232.6h0M287.4 235.6h0M298.6 234.4h0M309.6 241.1h0M298.5 244.5h0M302.4 237.5h0M307.8 241.0h0M285.4 228.2h0M292.8 235.8h0M289.6 224.4h0M306.8 238.7h0M299.3 234.5h0M295.9 240.5h0M290.2 227.9h0M303.9 233.5h0M287.6 243.5h0M310.2 243.4h0M307.1 241.6h0M303.9 244.3h0M297.2 240.3h0M293.3 238.3h0M288.0 236.3h0M290.9 232.1h0M285.2 226.9h0M295.2 229.4h0M287.1 233.2h0M292.9 233.8h0M300.2 240.2h0M287.6 225.8h0M292.5 235.4h0M289.4 244.4h0M290.2 243.1h0M299.4 241.7h0M305.2 239.1h0M301.2 235.7h0M290.7 237.8h0M312.7 240.0h0M302.7 243.2h0M302.6 238.7h0M318.2 243.8h0M295.0 230.7h0M293.4 240.9h0M292.0 233.8h0M294.2 234.7h0M284.9 236.7h0M301.1 242.8h0M288.4 239.5h0M286.1 222.9h0M287.1 232.7h0M287.9 235.3h0M288.3 236.0h0M295.4 242.2h0M302.1 238.1h0M297.7 235.1h0M293.9 230.8h0M302.9 243.7h0M307.4 238.7h0M284.9 229.8h0M320.3 243.7h0M288.2 239.8h0M303.0 237.5h0M306.7 236.9h0M286.5 237.4h0M284.7 229.3h0M295.8 240.3h0M287.5 233.4h0M299.8 239.4h0M291.6 240.1h0M309.8 242.1h0M285.3 231.6h0M288.7 223.4h0M285.7 235.7h0M295.4 234.1h0M310.7 244.2h0M286.3 240.5h0M297.8 240.2h0M299.4 239.8h0M285.7 238.9h0M286.4 228.7h0M288.1 227.4h0M294.1 240.0h0M288.8 242.9h0M289.9 229.3h0M290.1 236.6h0M297.2 235.7h0M287.1 232.6h0M299.8 233.2h0M312.4 241.5h0M303.3 237.7h0M285.6 233.4h0M312.3 241.7h0M290.1 228.2h0M303.5 243.8h0M295.4 237.9h0M292.4 233.8h0M318.2 243.9h0M292.5 241.4h0M291.8 236.8h0M288.3 234.5h0M302.4 239.7h0M286.3 230.5h0M292.6 230.0h0M287.6 229.0h0M291.6 233.6h0M305.2 242.8h0M293.1 236.0h0M288.6 234.5h0M297.4 243.4h0M295.6 244.1h0M287.5 229.0h0M302.6 242.4h0M310.6 241.4h0M288.6 235.9h0M304.6 237.6h0M298.6 242.0h0M302.8 239.6h0M297.7 234.6h0M301.1 243.8h0M297.1 235.5h0M285.4 227.7h0M300.7 230.7h0M289.4 229.2h0M299.7 240.2h0M294.5 231.4h0M307.6 242.4h0M293.7 231.9h0M296.0 236.1h0M290.2 224.0h0M285.7 232.0h0M295.2 233.7h0M290.0 240.3h0M302.0 234.3h0M300.0 234.0h0M316.6 241.9h0M308.9 238.6h0M292.4 243.4h0M308.5 239.7h0M295.0 232.8h0M296.4 232.8h0M297.3 241.9h0M299.3 230.5h0M308.1 242.7h0M289.9 243.2h0M290.2 243.6h0M288.3 243.5h0M305.3 241.6h0M285.8 235.0h0M312.8 242.0h0M295.1 232.0h0M286.3 236.1h0M295.3 236.7h0M305.3 240.0h0M321.1 242.3h0M316.4 244.9h0M286.9 235.3h0M292.6 238.3h0M284.8 242.3h0M288.9 243.9h0M297.0 242.8h0M285.0 229.7h0M302.3 240.8h0M298.9 238.1h0M291.4 242.1h0M294.0 238.3h0M304.1 243.9h0M287.5 231.0h0M286.9 242.5h0M301.2 240.5h0M290.2 244.8h0M298.1 231.7h0M288.0 233.7h0M310.4 239.1h0M307.7 239.4h0M295.8 235.8h0M285.2 227.3h0M301.3 244.3h0M307.9 242.0h0M288.5 237.5h0M301.8 230.6h0M291.1 229.9h0M289.6 226.4h0M293.4 238.0h0M290.3 238.8h0M289.2 232.6h0M302.4 237.7h0M308.8 242.7h0M297.3 244.7h0M311.8 243.7h0M290.7 237.8h0M288.1 243.4h0M289.3 228.9h0M303.5 241.1h0M289.9 237.2h0M288.2 228.5h0M287.7 243.8h0M290.4 237.0h0M297.1 233.8h0M299.5 237.4h0M293.3 241.1h0M302.1 237.9h0M315.5 243.8h0M307.5 235.9h0M295.0 226.1h0M306.9 241.5h0M289.0 239.7h0M286.0 234.0h0M288.0 244.1h0M290.2 241.4h0M287.9 235.1h0M293.1 232.2h0M308.8 240.3h0M290.0 244.4h0M297.8 235.7h0M290.3 237.9h0M298.3 231.5h0M294.4 231.9h0M297.0 233.0h0M293.8 235.7h0M298.8 240.4h0M286.2 233.0h0M287.8 231.1h0M301.3 220.8h0M290.8 227.2h0M294.0 222.9h0M289.7 204.6h0M287.8 163.3h0M287.3 228.5h0M290.1 215.7h0M292.7 236.2h0M288.3 175.6h0M304.0 236.6h0M303.2 224.2h0M286.7 162.1h0M295.3 219.2h0M300.3 225.2h0M290.7 201.0h0M301.7 232.5h0M285.4 155.8h0M287.8 210.8h0M292.2 202.6h0M287.4 172.5h0M288.0 160.9h0M310.6 236.2h0M303.6 233.6h0M289.6 178.8h0M293.9 235.4h0M297.4 207.4h0M286.6 217.6h0M298.7 216.1h0M287.0 174.7h0M291.1 231.1h0M291.5 231.5h0M293.7 211.5h0M291.0 225.3h0M286.3 217.1h0M286.1 156.3h0M284.9 219.6h0M285.3 221.0h0M297.3 222.1h0M288.5 214.8h0M290.1 173.1h0M286.2 157.5h0M286.0 154.7h0M294.1 224.3h0M288.4 171.5h0M287.3 205.6h0M291.6 194.1h0M300.1 208.9h0M298.7 215.9h0M295.7 237.7h0M287.6 229.2h0M288.7 176.0h0M286.2 175.8h0M313.9 242.9h0M300.8 235.2h0M286.0 154.6h0M293.9 221.5h0M296.9 221.3h0M288.4 233.2h0M296.3 217.5h0M285.6 211.8h0M295.0 235.7h0M298.9 224.4h0M286.7 233.9h0M286.4 163.3h0M285.4 158.8h0M306.4 226.4h0M294.3 220.5h0M286.4 152.3h0M292.5 198.8h0M289.3 193.5h0M292.0 211.8h0M292.1 229.9h0M289.1 210.7h0M291.1 216.7h0M290.5 173.8h0M285.0 149.3h0M286.2 205.2h0M285.4 198.9h0M289.6 186.6h0M288.5 218.7h0M296.8 216.2h0M287.1 181.5h0M285.9 161.4h0M295.2 230.5h0M290.3 178.9h0M289.9 209.5h0M286.4 174.6h0M292.5 184.7h0M291.4 181.9h0M294.3 201.1h0M315.6 241.0h0M284.9 139.0h0M299.1 238.0h0M285.7 169.5h0M296.2 198.5h0M289.5 230.8h0M293.8 223.0h0M287.4 218.8h0M288.7 178.4h0M287.0 160.2h0M290.8 214.4h0M301.6 231.4h0M288.8 208.0h0M286.0 216.8h0M298.4 231.3h0M289.1 206.9h0M295.5 236.6h0M289.8 216.2h0M287.6 207.6h0M288.0 226.3h0M286.1 194.4h0M288.4 219.6h0M285.8 202.3h0M285.7 195.2h0M299.8 227.3h0M292.5 192.8h0M296.2 224.1h0M286.5 217.6h0M287.3 222.6h0M290.9 225.7h0M285.9 173.1h0M305.6 238.1h0M287.9 166.4h0M286.6 224.6h0M299.2 209.9h0M290.8 184.4h0M289.2 200.2h0M287.9 209.6h0M287.6 175.9h0M287.3 228.0h0M285.3 217.1h0M293.4 194.6h0M296.7 199.8h0M309.2 232.9h0M292.3 207.8h0M284.8 143.8h0M285.7 189.1h0M288.6 207.7h0M307.5 235.3h0M287.8 216.8h0M293.1 212.1h0M295.2 228.8h0M292.5 207.2h0M288.5 199.5h0M297.3 236.6h0M313.0 243.2h0M313.1 231.2h0M292.5 231.1h0M288.7 231.2h0M285.1 223.1h0M289.4 202.6h0M295.4 208.0h0M286.5 153.5h0M285.6 226.6h0M290.5 201.4h0M292.2 212.9h0M288.6 167.3h0M287.9 193.9h0M286.1 208.6h0M290.5 236.6h0M285.8 176.8h0M287.9 160.9h0M288.7 169.2h0M303.8 229.1h0M288.4 184.1h0M293.4 206.0h0M287.8 192.3h0M288.4 197.6h0M285.1 219.1h0M299.0 240.7h0M287.6 167.4h0M301.3 212.2h0M289.8 184.4h0M289.2 186.5h0M290.7 209.0h0M290.7 215.7h0M285.8 187.3h0M288.5 216.2h0M284.8 232.4h0M310.2 233.7h0M293.0 188.6h0M295.0 228.1h0M289.0 169.4h0M309.9 234.6h0M289.3 177.9h0M297.3 236.3h0M288.0 227.8h0M294.2 222.4h0M298.7 207.9h0M299.2 240.7h0M291.5 216.3h0M288.6 182.9h0M288.2 195.2h0M297.2 233.9h0M285.9 215.2h0M290.1 175.2h0M310.2 237.5h0M291.3 215.5h0M291.4 235.4h0M297.7 237.4h0M298.7 220.7h0M302.7 236.7h0M289.0 230.4h0M299.1 210.7h0M287.7 188.8h0M287.8 211.8h0M287.3 219.8h0M297.5 207.2h0M289.3 187.1h0M294.9 211.0h0M286.0 218.7h0M292.5 226.5h0M288.9 178.6h0M286.4 160.9h0M309.3 229.5h0M285.1 223.2h0M287.5 163.3h0M287.3 218.0h0M285.1 179.7h0M288.6 177.4h0M287.0 168.4h0M292.1 199.1h0M285.0 206.9h0M288.5 211.8h0M286.8 176.1h0M292.1 221.6h0M288.8 174.9h0M289.2 220.0h0M295.5 231.1h0M291.5 216.1h0M285.5 165.6h0M295.6 232.4h0M287.3 193.1h0M287.9 193.8h0M287.9 172.6h0M286.5 170.9h0M292.5 220.4h0M286.0 218.2h0M293.6 230.5h0M289.3 175.1h0M284.7 229.9h0M300.9 223.1h0M286.0 168.9h0M290.0 221.4h0M293.5 209.1h0M291.5 221.1h0M291.2 204.3h0M312.1 232.2h0M289.9 200.8h0M289.1 221.0h0M284.9 164.8h0M285.5 203.5h0M287.9 227.1h0M299.2 236.7h0M285.3 147.0h0M288.0 216.5h0M285.2 143.4h0M285.5 167.3h0M289.0 225.4h0M292.6 216.2h0M285.6 152.4h0M286.5 197.2h0M287.7 226.6h0M286.2 209.7h0M288.4 227.1h0M285.6 175.3h0M293.9 220.2h0M292.4 231.4h0M300.9 239.0h0M285.2 159.8h0M286.2 222.6h0M286.1 214.5h0M291.3 199.7h0M289.3 170.0h0M309.1 231.3h0M286.9 201.5h0M287.8 158.1h0M286.6 150.2h0M287.0 209.4h0M296.3 237.5h0M291.2 187.5h0M309.6 242.6h0M293.5 193.0h0M316.2 236.5h0M287.8 219.8h0M286.0 206.0h0M289.4 192.9h0M285.2 166.5h0M305.3 221.7h0M286.2 227.8h0M285.2 194.4h0M288.9 178.8h0M290.3 174.4h0M290.4 232.4h0M292.8 193.3h0M286.9 220.4h0M288.9 219.8h0M300.7 221.5h0M287.6 192.5h0M314.4 239.8h0M298.2 240.3h0M304.0 223.8h0M291.9 192.4h0M288.2 170.9h0M303.1 220.8h0M285.6 156.3h0M286.9 229.1h0M295.1 197.9h0M285.9 233.9h0M293.4 213.8h0M290.1 237.4h0M285.8 234.0h0M290.0 175.7h0M285.3 183.4h0M289.6 228.9h0M287.3 190.7h0M288.0 198.9h0M287.4 222.6h0M310.1 235.5h0M287.3 162.9h0M292.4 215.6h0M290.7 178.0h0M285.4 182.2h0M291.7 218.3h0M289.9 184.3h0M289.1 221.8h0M290.4 231.1h0M295.7 211.2h0M287.9 160.2h0M285.7 158.3h0M300.1 231.3h0M304.0 234.9h0M296.1 208.3h0M302.7 240.6h0M286.7 218.6h0M290.4 221.0h0M289.0 210.4h0M292.2 237.4h0M290.6 187.3h0M293.7 189.8h0M285.6 191.7h0M287.5 168.6h0M308.8 235.1h0M296.3 214.9h0M289.3 229.6h0M291.1 235.9h0M287.3 173.6h0M286.7 160.5h0M306.7 230.7h0M286.1 173.2h0M285.0 195.1h0M309.0 235.7h0M312.7 235.7h0M285.0 140.4h0M285.3 224.1h0M302.0 229.7h0M291.2 178.8h0M290.9 196.5h0M292.5 199.3h0M292.5 220.1h0M300.6 222.9h0M289.6 201.1h0M285.0 154.3h0M294.6 231.2h0M288.2 198.3h0M292.0 185.3h0M289.5 213.0h0M295.9 239.0h0M298.2 238.6h0M292.9 200.2h0M287.0 155.5h0M285.7 233.8h0M290.5 185.5h0M289.3 179.3h0M286.6 179.4h0M295.2 221.3h0M291.4 209.3h0M303.3 226.0h0M287.1 208.2h0M285.8 157.0h0M304.3 228.5h0M288.5 163.8h0M302.4 219.9h0M302.3 225.1h0M292.9 207.4h0M289.8 178.2h0M292.8 192.9h0M298.1 236.2h0M291.6 229.2h0M301.0 228.3h0M290.6 231.0h0M292.4 229.6h0M300.0 220.3h0M310.2 228.4h0M288.8 186.2h0M296.5 209.8h0M293.0 205.5h0M303.0 230.1h0M310.0 239.7h0M285.2 143.0h0M294.4 197.5h0M285.4 194.5h0M304.9 235.4h0M286.1 225.1h0M293.8 221.8h0M295.6 210.3h0M288.3 198.0h0M290.6 210.3h0M286.7 154.3h0M285.0 209.5h0M292.2 198.1h0M296.7 233.2h0M290.4 180.7h0M285.9 215.7h0M289.5 196.6h0M293.9 208.6h0M285.5 205.7h0M286.0 224.9h0M290.0 239.1h0M289.3 135.4h0M290.1 218.3h0M286.9 61.5h0M318.9 34.5h0M300.7 243.2h0M286.0 206.2h0M286.4 220.7h0M285.1 229.9h0M299.2 167.3h0M286.8 106.8h0M294.0 217.2h0M308.9 183.2h0M300.1 137.6h0M287.0 119.1h0M309.5 86.0h0M301.4 140.6h0M286.3 207.5h0M285.7 155.3h0M304.8 31.8h0M310.6 102.4h0M292.5 169.2h0M291.6 40.4h0M290.3 234.7h0M303.4 224.8h0M312.0 105.1h0M287.1 119.6h0M311.3 216.4h0M289.3 82.5h0M303.8 220.5h0M335.1 221.4h0M286.1 233.2h0M294.6 242.2h0M298.2 239.4h0M292.4 237.0h0M286.0 119.6h0M319.9 182.5h0M328.2 164.1h0M287.9 243.6h0M285.0 113.5h0M291.4 125.1h0M311.1 61.1h0M324.2 34.1h0M295.1 238.2h0M291.9 234.7h0M303.1 194.5h0M328.0 79.9h0M315.6 149.7h0M290.8 157.5h0M292.7 216.2h0M292.6 222.3h0M310.4 143.7h0M285.6 40.2h0M305.8 141.8h0M313.5 84.4h0M284.9 84.9h0M312.9 183.3h0M293.9 93.9h0M325.1 143.9h0M298.1 203.8h0M292.0 218.3h0M289.1 117.5h0M284.8 116.1h0M315.4 157.5h0M344.6 86.4h0M309.4 165.9h0M289.1 65.5h0M293.0 79.4h0M286.6 36.8h0M285.1 211.1h0M323.1 109.7h0M292.1 133.7h0M288.8 146.9h0M295.4 98.2h0M337.3 235.5h0M293.5 229.3h0M312.4 225.9h0M285.7 242.7h0M346.6 166.9h0M289.8 198.7h0M289.9 96.8h0M286.1 167.8h0M320.9 177.5h0M292.7 187.3h0M303.7 243.4h0M305.6 222.6h0M288.6 220.9h0M294.5 59.4h0M292.4 228.2h0M288.4 55.8h0M304.1 184.8h0M289.5 211.5h0M311.5 193.0h0M319.6 210.0h0M287.6 243.9h0M320.0 239.0h0M288.3 212.8h0M298.8 241.4h0M288.5 205.0h0M289.1 68.6h0M288.8 155.9h0M290.7 120.4h0M292.7 131.7h0M287.4 88.8h0M294.6 213.8h0M324.5 83.9h0M298.0 58.0h0M331.4 141.4h0M294.7 98.7h0M313.1 84.7h0M299.6 241.9h0M321.6 81.0h0M298.7 91.1h0M303.4 191.1h0M296.5 174.1h0M304.9 238.0h0M328.7 33.2h0M291.9 238.3h0M292.7 35.3h0M296.6 233.1h0M291.0 238.6h0M289.0 56.0h0M289.1 154.9h0M315.0 205.8h0M290.6 135.0h0M300.5 73.2h0M293.2 199.1h0M289.4 99.7h0M285.2 221.0h0M285.8 32.2h0M292.0 154.2h0M330.9 33.7h0M285.2 122.3h0M285.6 45.0h0M287.2 162.5h0M304.5 54.1h0M288.3 57.1h0M288.1 138.3h0M333.8 177.4h0M346.8 141.2h0M324.7 240.3h0M290.7 76.9h0M287.6 244.1h0M288.4 142.7h0M303.2 77.6h0M297.2 41.6h0M290.7 231.5h0M335.7 198.3h0M288.4 145.8h0M297.7 104.7h0M291.2 204.9h0M292.7 237.0h0M286.2 88.6h0M292.1 54.7h0M307.0 35.2h0M295.1 111.3h0M340.6 216.1h0M288.5 175.4h0M285.4 116.5h0M290.9 41.6h0M331.4 182.4h0M297.8 117.5h0M289.6 175.6h0M324.6 159.1h0M285.6 231.8h0M314.1 140.3h0M327.6 205.9h0M293.8 223.8h0M293.2 188.4h0M325.3 237.5h0M286.7 214.8h0M306.8 174.4h0M311.0 83.0h0M291.9 196.3h0M290.5 127.0h0M308.3 155.3h0M291.0 69.0h0M289.4 206.0h0M285.7 70.6h0M311.8 90.0h0M305.2 91.0h0M289.3 152.4h0M288.8 118.6h0M298.9 234.1h0M296.4 125.3h0M285.5 60.2h0M289.0 227.5h0M288.7 70.9h0M285.5 48.4h0M288.0 65.6h0M286.7 242.8h0M329.2 196.3h0M319.7 241.7h0M348.1 218.2h0M289.3 123.1h0M299.1 236.3h0M321.9 27.4h0M298.8 27.4h0M309.4 27.4h0M290.0 27.4h0M316.3 27.4h0M310.9 27.4h0M318.7 27.4h0M291.1 27.4h0M301.7 27.4h0M327.6 27.4h0M299.1 27.4h0M291.4 27.4h0M315.4 27.4h0M310.3 27.4h0M327.4 27.4h0M316.5 27.4h0M317.8 27.4h0M301.4 27.4h0M317.3 27.4h0M311.2 27.4h0M292.0 27.4h0M299.4 27.4h0M291.1 27.4h0M311.2 27.4h0M307.6 27.4h0M309.2 27.4h0M317.9 27.4h0M287.8 27.4h0M302.9 27.4h0M299.6 27.4h0M320.4 27.4h0M291.9 27.4h0M309.6 27.4h0M327.7 27.4h0M291.8 27.4h0M300.2 27.4h0M323.8 27.4h0M315.0 27.4h0M295.6 27.4h0M312.6 27.4h0M302.7 27.4h0M326.4 27.4h0M324.5 27.4h0M294.4 27.4h0M292.9 27.4h0M306.4 27.4h0M287.0 27.4h0M322.8 27.4h0M286.5 27.4h0M324.2 27.4h0M313.0 27.4h0M325.6 27.4h0M307.3 27.4h0M293.6 27.4h0M304.7 27.4h0M321.2 27.4h0M298.4 27.4h0M303.2 27.4h0M319.9 27.4h0M319.9 27.4h0M289.5 27.4h0M284.9 27.4h0M325.2 27.4h0M317.0 27.4h0M315.4 27.4h0M306.3 27.4h0M321.8 27.4h0M323.1 27.4h0M306.0 27.4h0M291.4 27.4h0M317.8 27.4h0M290.2 27.4h0M295.8 27.4h0M286.5 27.4h0M287.5 27.4h0M309.7 27.4h0M325.7 27.4h0M313.7 27.4h0M306.0 27.4h0M300.4 27.4h0M322.6 27.4h0M288.3 27.4h0M307.3 27.4h0M318.2 27.4h0M323.1 27.4h0M316.5 27.4h0M310.1 27.4h0M287.8 27.4h0M310.0 27.4h0M315.2 27.4h0M298.8 27.4h0M291.6 27.4h0M308.0 27.4h0M304.6 27.4h0M294.0 27.4h0M299.4 27.4h0M319.9 27.4h0M315.5 27.4h0M299.3 27.4h0M293.1 27.4h0M299.1 27.4h0M292.0 27.4h0M301.2 27.4h0M316.5 27.4h0M285.4 27.4h0M323.5 27.4h0M313.7 27.4h0M312.4 27.4h0M323.1 27.4h0M327.3 27.4h0M303.9 27.4h0M296.7 27.4h0M285.4 27.4h0M295.0 27.4h0M286.0 27.4h0M312.5 27.4h0M295.1 27.4h0M317.7 27.4h0M308.9 27.4h0M299.2 27.4h0M336.5 27.4h0M339.2 27.4h0M346.9 27.4h0M356.9 27.4h0M360.7 27.4h0M405.3 27.4h0M411.4 27.4h0M307.1 33.3h0M337.7 37.0h0M402.6 62.3h0M330.0 70.8h0M313.2 55.2h0M305.6 56.9h0M298.3 52.2h0M307.1 65.7h0M296.3 40.0h0M359.7 241.3h0M375.9 228.2h0M354.8 242.8h0M355.7 242.6h0M362.6 240.0h0M376.6 227.2h0M354.0 243.0h0M365.7 238.3h0M354.5 242.9h0M363.5 239.6h0M370.9 234.3h0M356.8 242.2h0M376.3 227.7h0M357.3 242.1h0M358.8 241.6h0M364.3 239.1h0M372.5 232.6h0M361.8 240.4h0M355.0 242.8h0M375.9 228.3h0M377.5 225.7h0M363.5 239.6h0M363.0 239.8h0M377.8 225.2h0M374.7 229.9h0M354.4 242.9h0M373.6 231.3h0M370.0 235.1h0M370.1 235.0h0M357.8 241.9h0M358.7 241.6h0M371.2 233.9h0M354.0 243.0h0M366.8 237.6h0M372.0 233.1h0M369.8 235.3h0M356.3 242.4h0M378.5 224.0h0M363.2 239.8h0M375.4 229.0h0M355.1 242.7h0M363.8 239.4h0M358.6 241.7h0M356.9 242.2h0M358.5 241.7h0M359.7 241.3h0M354.1 243.0h0M363.8 239.4h0M373.8 231.1h0M376.9 226.7h0M368.2 236.6h0M356.7 242.3h0M358.9 241.6h0M378.8 223.4h0M376.2 227.8h0M362.4 240.1h0M358.7 241.6h0M355.8 242.5h0M367.5 237.1h0M357.3 242.1h0M354.5 242.9h0M377.0 226.6h0M356.8 242.2h0M371.9 233.2h0M361.7 240.5h0M372.4 232.7h0M373.1 231.9h0M366.2 238.0h0M378.3 224.3h0M360.4 241.0h0M372.4 232.7h0M361.4 240.6h0M358.0 241.9h0M355.6 242.6h0M374.6 230.1h0M355.0 242.7h0M365.3 238.5h0M371.0 234.2h0M371.0 234.1h0M360.1 241.1h0M353.8 243.0h0M360.9 240.8h0M355.4 242.6h0M377.4 226.0h0M357.8 241.9h0M365.1 238.7h0M375.1 229.4h0M362.7 240.0h0M356.5 242.3h0M357.5 242.0h0M354.4 242.9h0M359.6 241.3h0M354.2 242.9h0M370.1 235.0h0M362.8 239.9h0M359.0 241.5h0M370.7 234.4h0M366.1 238.0h0M373.3 231.7h0M363.3 239.7h0M375.8 228.5h0M368.1 236.6h0M373.8 231.1h0M366.2 238.0h0M355.7 242.5h0M369.5 235.6h0M377.5 225.8h0M355.7 242.6h0M361.8 240.4h0M369.2 235.8h0M373.2 231.8h0M367.7 237.0h0M362.9 239.9h0M360.7 240.9h0M369.8 235.2h0M355.6 242.6h0M370.0 235.1h0M364.1 239.2h0M356.1 242.5h0M355.8 242.5h0M381.4 217.9h0M384.9 208.6h0M390.7 185.5h0M391.4 175.1h0" stroke="#c9173f" stroke-width="2.8" stroke-linecap="round" fill="none"/>
</g>
<line x1="139.00" y1="243.50" x2="413.00" y2="243.50" stroke="#555" stroke-width="0.9" stroke-dasharray="3.2 2.4"/>
<line x1="269.32" y1="27.40" x2="269.32" y2="282.00" stroke="#555" stroke-width="0.9" stroke-dasharray="3.2 2.4"/>
<line x1="277.00" y1="27.40" x2="277.00" y2="282.00" stroke="#555" stroke-width="0.9" stroke-dasharray="3.2 2.4"/>
<line x1="284.68" y1="27.40" x2="284.68" y2="282.00" stroke="#555" stroke-width="0.9" stroke-dasharray="3.2 2.4"/>
<line x1="138.90" y1="26.80" x2="138.90" y2="283.00" stroke="#7a7a7a" stroke-width="1.6"/>
<line x1="138.10" y1="282.20" x2="415.60" y2="282.20" stroke="#7a7a7a" stroke-width="1.6"/>
<line x1="134.20" y1="282.20" x2="138.90" y2="282.20" stroke="#7a7a7a" stroke-width="1.4"/>
<text x="106.35" y="288.60" font-size="14.2" fill="#262626" color="#262626">-50</text>
<line x1="134.20" y1="245.80" x2="138.90" y2="245.80" stroke="#7a7a7a" stroke-width="1.4"/>
<text x="112.65" y="253.00" font-size="14.2" fill="#262626" color="#262626">0</text>
<line x1="134.20" y1="209.40" x2="138.90" y2="209.40" stroke="#7a7a7a" stroke-width="1.4"/>
<text x="108.70" y="213.90" font-size="14.2" fill="#262626" color="#262626">50</text>
<line x1="134.20" y1="173.00" x2="138.90" y2="173.00" stroke="#7a7a7a" stroke-width="1.4"/>
<text x="104.75" y="178.50" font-size="14.2" fill="#262626" color="#262626">100</text>
<line x1="134.20" y1="136.60" x2="138.90" y2="136.60" stroke="#7a7a7a" stroke-width="1.4"/>
<text x="104.75" y="142.40" font-size="14.2" fill="#262626" color="#262626">150</text>
<line x1="134.20" y1="100.20" x2="138.90" y2="100.20" stroke="#7a7a7a" stroke-width="1.4"/>
<text x="104.75" y="105.70" font-size="14.2" fill="#262626" color="#262626">200</text>
<line x1="134.20" y1="63.80" x2="138.90" y2="63.80" stroke="#7a7a7a" stroke-width="1.4"/>
<text x="104.75" y="68.90" font-size="14.2" fill="#262626" color="#262626">250</text>
<line x1="134.20" y1="27.40" x2="138.90" y2="27.40" stroke="#7a7a7a" stroke-width="1.4"/>
<text x="104.75" y="30.50" font-size="14.2" fill="#262626" color="#262626">300</text>
<line x1="161.80" y1="282.20" x2="161.80" y2="286.40" stroke="#7a7a7a" stroke-width="1.4"/>
<text x="152.48" y="305.60" font-size="14.0" fill="#262626" color="#262626">-15</text>
<line x1="200.20" y1="282.20" x2="200.20" y2="286.40" stroke="#7a7a7a" stroke-width="1.4"/>
<text x="190.88" y="305.60" font-size="14.0" fill="#262626" color="#262626">-10</text>
<line x1="238.60" y1="282.20" x2="238.60" y2="286.40" stroke="#7a7a7a" stroke-width="1.4"/>
<text x="233.18" y="305.60" font-size="14.0" fill="#262626" color="#262626">-5</text>
<line x1="277.00" y1="282.20" x2="277.00" y2="286.40" stroke="#7a7a7a" stroke-width="1.4"/>
<text x="273.90" y="305.60" font-size="14.0" fill="#262626" color="#262626">0</text>
<line x1="315.40" y1="282.20" x2="315.40" y2="286.40" stroke="#7a7a7a" stroke-width="1.4"/>
<text x="312.30" y="305.60" font-size="14.0" fill="#262626" color="#262626">5</text>
<line x1="353.80" y1="282.20" x2="353.80" y2="286.40" stroke="#7a7a7a" stroke-width="1.4"/>
<text x="346.83" y="305.60" font-size="14.0" fill="#262626" color="#262626">10</text>
<line x1="392.20" y1="282.20" x2="392.20" y2="286.40" stroke="#7a7a7a" stroke-width="1.4"/>
<text x="385.23" y="305.60" font-size="14.0" fill="#262626" color="#262626">15</text>
<line x1="139.70" y1="282.20" x2="139.70" y2="286.40" stroke="#7a7a7a" stroke-width="1.4"/>
<line x1="415.10" y1="282.20" x2="415.10" y2="286.40" stroke="#7a7a7a" stroke-width="1.4"/>
<text x="230.60" y="324.00" font-size="13.3" fill="#262626" color="#262626" textLength="86.68" lengthAdjust="spacingAndGlyphs">log2(LPS/PE)</text>
<text x="-39.50" y="0" font-size="13.5" fill="#262626" color="#262626" textLength="79.01" lengthAdjust="spacingAndGlyphs" transform="translate(92.20 146.20) rotate(-90)">-log10(FDR)</text>
<rect x="423.90" y="25.50" width="10.40" height="10.30" fill="#c9173f"/>
<text x="441.90" y="32.70" font-size="12.3" fill="#262626" color="#262626">up</text>
<rect x="423.90" y="48.10" width="10.40" height="10.30" fill="#8fa3b8"/>
<text x="441.90" y="55.50" font-size="12.3" fill="#262626" color="#262626">no-DEGS</text>
<rect x="423.90" y="69.30" width="10.40" height="10.30" fill="#6cb55a"/>
<text x="441.90" y="79.20" font-size="12.3" fill="#262626" color="#262626">Down</text>
<text x="555.70" y="22.60" font-size="29.48" fill="#111" color="#111" textLength="6.21" lengthAdjust="spacingAndGlyphs" style="stroke-width:0.85px">(</text>
<text x="566.10" y="22.80" font-size="31.34" fill="#111" color="#111" textLength="16.11" lengthAdjust="spacingAndGlyphs" style="stroke-width:0.85px">B</text>
<text x="585.80" y="22.60" font-size="29.48" fill="#111" color="#111" textLength="7.12" lengthAdjust="spacingAndGlyphs" style="stroke-width:0.85px">)</text>
<rect x="815.70" y="19.20" width="65.30" height="4.60" fill="#1f63a0"/>
<line x1="812.00" y1="21.50" x2="815.70" y2="21.50" stroke="#666" stroke-width="1"/>
<text x="731.60" y="25.60" font-size="11" fill="#262626" color="#262626">cellular process</text>
<rect x="815.70" y="30.99" width="55.00" height="4.60" fill="#1f63a0"/>
<line x1="812.00" y1="33.29" x2="815.70" y2="33.29" stroke="#666" stroke-width="1"/>
<text x="710.75" y="38.59" font-size="11" fill="#262626" color="#262626">biological regulation</text>
<rect x="815.70" y="42.78" width="52.10" height="4.60" fill="#1f63a0"/>
<line x1="812.00" y1="45.08" x2="815.70" y2="45.08" stroke="#666" stroke-width="1"/>
<text x="656.95" y="48.18" font-size="11" fill="#262626" color="#262626">regulation of biological process</text>
<rect x="815.70" y="54.57" width="48.30" height="4.60" fill="#1f63a0"/>
<line x1="812.00" y1="56.87" x2="815.70" y2="56.87" stroke="#666" stroke-width="1"/>
<text x="719.35" y="60.97" font-size="11" fill="#262626" color="#262626">metabolic process</text>
<rect x="815.70" y="66.36" width="42.20" height="4.60" fill="#1f63a0"/>
<line x1="812.00" y1="68.66" x2="815.70" y2="68.66" stroke="#666" stroke-width="1"/>
<text x="707.10" y="72.76" font-size="11" fill="#262626" color="#262626">response to stimulus</text>
<rect x="815.70" y="78.15" width="34.50" height="4.60" fill="#1f63a0"/>
<line x1="812.00" y1="80.45" x2="815.70" y2="80.45" stroke="#666" stroke-width="1"/>
<text x="651.50" y="84.55" font-size="11" fill="#262626" color="#262626">multicellular organismal process</text>
<rect x="815.70" y="89.94" width="32.70" height="4.60" fill="#1f63a0"/>
<line x1="812.00" y1="92.24" x2="815.70" y2="92.24" stroke="#666" stroke-width="1"/>
<text x="616.60" y="96.34" font-size="11" fill="#262626" color="#262626">positive regulation of biological process</text>
<rect x="815.70" y="101.73" width="30.60" height="4.60" fill="#1f63a0"/>
<line x1="812.00" y1="104.03" x2="815.70" y2="104.03" stroke="#666" stroke-width="1"/>
<text x="694.90" y="108.13" font-size="11" fill="#262626" color="#262626">developmental process</text>
<rect x="815.70" y="113.52" width="30.00" height="4.60" fill="#1f63a0"/>
<line x1="812.00" y1="115.82" x2="815.70" y2="115.82" stroke="#666" stroke-width="1"/>
<text x="590.30" y="119.92" font-size="11" fill="#262626" color="#262626">cellular component organismal or biogenesis</text>
<rect x="815.70" y="125.31" width="30.00" height="4.60" fill="#1f63a0"/>
<line x1="812.00" y1="127.61" x2="815.70" y2="127.61" stroke="#666" stroke-width="1"/>
<text x="753.60" y="131.71" font-size="11" fill="#262626" color="#262626">localization</text>
<rect x="815.70" y="137.10" width="29.10" height="4.60" fill="#1f63a0"/>
<line x1="812.00" y1="139.40" x2="815.70" y2="139.40" stroke="#666" stroke-width="1"/>
<text x="764.60" y="142.30" font-size="11" fill="#262626" color="#262626">signaling</text>
<rect x="815.70" y="148.89" width="28.90" height="4.60" fill="#1f63a0"/>
<line x1="812.00" y1="151.19" x2="815.70" y2="151.19" stroke="#666" stroke-width="1"/>
<text x="612.30" y="155.29" font-size="11" fill="#262626" color="#262626">negative regulation of biological process</text>
<rect x="815.70" y="160.68" width="17.20" height="4.60" fill="#1f63a0"/>
<line x1="812.00" y1="162.98" x2="815.70" y2="162.98" stroke="#666" stroke-width="1"/>
<text x="689.40" y="167.08" font-size="11" fill="#262626" color="#262626">immune system process</text>
<rect x="815.70" y="172.47" width="13.90" height="4.60" fill="#1f63a0"/>
<line x1="812.00" y1="174.77" x2="815.70" y2="174.77" stroke="#666" stroke-width="1"/>
<text x="694.30" y="178.87" font-size="11" fill="#262626" color="#262626">multi-organism process</text>
<rect x="815.70" y="184.26" width="12.20" height="4.60" fill="#1f63a0"/>
<line x1="812.00" y1="186.56" x2="815.70" y2="186.56" stroke="#666" stroke-width="1"/>
<text x="730.95" y="190.66" font-size="11" fill="#262626" color="#262626">cell proliferation</text>
<rect x="815.70" y="196.05" width="11.00" height="4.60" fill="#1f63a0"/>
<line x1="812.00" y1="198.35" x2="815.70" y2="198.35" stroke="#666" stroke-width="1"/>
<text x="751.40" y="203.15" font-size="11" fill="#262626" color="#262626">locomotion</text>
<rect x="815.70" y="207.84" width="8.30" height="4.60" fill="#1f63a0"/>
<line x1="812.00" y1="210.14" x2="815.70" y2="210.14" stroke="#666" stroke-width="1"/>
<text x="714.45" y="213.04" font-size="11" fill="#262626" color="#262626">biological adhesion</text>
<rect x="815.70" y="219.63" width="7.00" height="4.60" fill="#1f63a0"/>
<line x1="812.00" y1="221.93" x2="815.70" y2="221.93" stroke="#666" stroke-width="1"/>
<text x="713.85" y="226.03" font-size="11" fill="#262626" color="#262626">biological - process</text>
<rect x="815.70" y="231.42" width="6.60" height="4.60" fill="#1f63a0"/>
<line x1="812.00" y1="233.72" x2="815.70" y2="233.72" stroke="#666" stroke-width="1"/>
<text x="746.85" y="236.62" font-size="11" fill="#262626" color="#262626">reproduction</text>
<rect x="815.70" y="243.21" width="6.80" height="4.60" fill="#1f63a0"/>
<line x1="812.00" y1="245.51" x2="815.70" y2="245.51" stroke="#666" stroke-width="1"/>
<text x="705.90" y="249.61" font-size="11" fill="#262626" color="#262626">reproductive process</text>
<rect x="815.70" y="255.00" width="5.20" height="4.60" fill="#1f63a0"/>
<line x1="812.00" y1="257.30" x2="815.70" y2="257.30" stroke="#666" stroke-width="1"/>
<text x="773.30" y="261.40" font-size="11" fill="#262626" color="#262626">growth</text>
<rect x="815.70" y="266.79" width="3.10" height="4.60" fill="#1f63a0"/>
<line x1="812.00" y1="269.09" x2="815.70" y2="269.09" stroke="#666" stroke-width="1"/>
<text x="765.80" y="273.19" font-size="11" fill="#262626" color="#262626">behavior</text>
<rect x="815.70" y="278.58" width="1.30" height="4.60" fill="#1f63a0"/>
<line x1="812.00" y1="280.88" x2="815.70" y2="280.88" stroke="#666" stroke-width="1"/>
<text x="724.85" y="283.48" font-size="11" fill="#262626" color="#262626">rhythmic process</text>
<rect x="815.70" y="290.37" width="1.00" height="4.60" fill="#1f63a0"/>
<line x1="812.00" y1="292.67" x2="815.70" y2="292.67" stroke="#666" stroke-width="1"/>
<text x="760.95" y="297.57" font-size="11" fill="#262626" color="#262626">cell killing</text>
<rect x="815.70" y="302.16" width="0.80" height="4.60" fill="#1f63a0"/>
<line x1="812.00" y1="304.46" x2="815.70" y2="304.46" stroke="#666" stroke-width="1"/>
<text x="743.80" y="308.56" font-size="11" fill="#262626" color="#262626">detoxification</text>
<line x1="812.00" y1="316.25" x2="815.70" y2="316.25" stroke="#666" stroke-width="1"/>
<text x="745.00" y="320.35" font-size="11" fill="#262626" color="#262626">pigmentation</text>
<line x1="812.00" y1="328.04" x2="815.70" y2="328.04" stroke="#666" stroke-width="1"/>
<text x="729.10" y="332.14" font-size="11" fill="#262626" color="#262626">biological phase</text>
<line x1="812.00" y1="339.83" x2="815.70" y2="339.83" stroke="#666" stroke-width="1"/>
<text x="730.35" y="343.93" font-size="11" fill="#262626" color="#262626">cell aggregation</text>
<line x1="812.00" y1="351.62" x2="815.70" y2="351.62" stroke="#666" stroke-width="1"/>
<text x="719.35" y="355.72" font-size="11" fill="#262626" color="#262626">nitrogen utilization</text>
<rect x="815.70" y="361.11" width="68.40" height="4.60" fill="#e2711d"/>
<line x1="812.00" y1="363.41" x2="815.70" y2="363.41" stroke="#666" stroke-width="1"/>
<text x="786.30" y="367.51" font-size="11" fill="#262626" color="#262626">cell</text>
<rect x="815.70" y="372.90" width="68.40" height="4.60" fill="#e2711d"/>
<line x1="812.00" y1="375.20" x2="815.70" y2="375.20" stroke="#666" stroke-width="1"/>
<text x="766.60" y="379.30" font-size="11" fill="#262626" color="#262626">cell part</text>
<rect x="815.70" y="384.69" width="57.00" height="4.60" fill="#e2711d"/>
<line x1="812.00" y1="386.99" x2="815.70" y2="386.99" stroke="#666" stroke-width="1"/>
<text x="759.35" y="391.09" font-size="11" fill="#262626" color="#262626">organelle</text>
<rect x="815.70" y="396.48" width="40.30" height="4.60" fill="#e2711d"/>
<line x1="812.00" y1="398.78" x2="815.70" y2="398.78" stroke="#666" stroke-width="1"/>
<text x="737.35" y="402.88" font-size="11" fill="#262626" color="#262626">organelle part</text>
<rect x="815.70" y="408.27" width="37.40" height="4.60" fill="#e2711d"/>
<line x1="812.00" y1="410.57" x2="815.70" y2="410.57" stroke="#666" stroke-width="1"/>
<text x="752.00" y="414.67" font-size="11" fill="#262626" color="#262626">membrane</text>
<rect x="815.70" y="420.06" width="27.90" height="4.60" fill="#e2711d"/>
<line x1="812.00" y1="422.36" x2="815.70" y2="422.36" stroke="#666" stroke-width="1"/>
<text x="730.00" y="426.46" font-size="11" fill="#262626" color="#262626">membrane part</text>
<rect x="815.70" y="431.85" width="20.90" height="4.60" fill="#e2711d"/>
<line x1="812.00" y1="434.15" x2="815.70" y2="434.15" stroke="#666" stroke-width="1"/>
<text x="676.55" y="438.25" font-size="11" fill="#262626" color="#262626">protein-containing complex</text>
<rect x="815.70" y="443.64" width="20.70" height="4.60" fill="#e2711d"/>
<line x1="812.00" y1="445.94" x2="815.70" y2="445.94" stroke="#666" stroke-width="1"/>
<text x="674.70" y="450.04" font-size="11" fill="#262626" color="#262626">membrane-enclosed lumen</text>
<rect x="815.70" y="455.43" width="10.80" height="4.60" fill="#e2711d"/>
<line x1="812.00" y1="457.73" x2="815.70" y2="457.73" stroke="#666" stroke-width="1"/>
<text x="715.05" y="461.83" font-size="11" fill="#262626" color="#262626">extracellular region</text>
<rect x="815.70" y="467.22" width="9.30" height="4.60" fill="#e2711d"/>
<line x1="812.00" y1="469.52" x2="815.70" y2="469.52" stroke="#666" stroke-width="1"/>
<text x="693.05" y="475.62" font-size="11" fill="#262626" color="#262626">extracellular region part</text>
<rect x="815.70" y="479.01" width="6.60" height="4.60" fill="#e2711d"/>
<line x1="812.00" y1="481.31" x2="815.70" y2="481.31" stroke="#666" stroke-width="1"/>
<text x="763.65" y="485.41" font-size="11" fill="#262626" color="#262626">synapse</text>
<rect x="815.70" y="490.80" width="6.00" height="4.60" fill="#e2711d"/>
<line x1="812.00" y1="493.10" x2="815.70" y2="493.10" stroke="#666" stroke-width="1"/>
<text x="750.50" y="497.20" font-size="11" fill="#262626" color="#262626">cell junction</text>
<rect x="815.70" y="502.59" width="5.80" height="4.60" fill="#e2711d"/>
<line x1="812.00" y1="504.89" x2="815.70" y2="504.89" stroke="#666" stroke-width="1"/>
<text x="711.65" y="508.99" font-size="11" fill="#262626" color="#262626">cellular-component</text>
<rect x="815.70" y="514.38" width="5.20" height="4.60" fill="#e2711d"/>
<line x1="812.00" y1="516.68" x2="815.70" y2="516.68" stroke="#666" stroke-width="1"/>
<text x="741.60" y="519.58" font-size="11" fill="#262626" color="#262626">synapse part</text>
<rect x="815.70" y="526.17" width="4.80" height="4.60" fill="#e2711d"/>
<line x1="812.00" y1="528.47" x2="815.70" y2="528.47" stroke="#666" stroke-width="1"/>
<text x="688.80" y="531.07" font-size="11" fill="#262626" color="#262626">supramolecular complex</text>
<line x1="812.00" y1="540.26" x2="815.70" y2="540.26" stroke="#666" stroke-width="1"/>
<text x="734.65" y="544.36" font-size="11" fill="#262626" color="#262626">other organism</text>
<line x1="812.00" y1="552.05" x2="815.70" y2="552.05" stroke="#666" stroke-width="1"/>
<text x="712.60" y="556.15" font-size="11" fill="#262626" color="#262626">other organism part</text>
<line x1="812.00" y1="563.84" x2="815.70" y2="563.84" stroke="#666" stroke-width="1"/>
<text x="767.00" y="567.14" font-size="11" fill="#262626" color="#262626">nucleoid</text>
<rect x="815.70" y="573.33" width="59.50" height="4.60" fill="#a3bbe0"/>
<line x1="812.00" y1="575.63" x2="815.70" y2="575.63" stroke="#666" stroke-width="1"/>
<text x="772.50" y="577.43" font-size="11" fill="#262626" color="#262626">binding</text>
<rect x="815.70" y="585.12" width="26.90" height="4.60" fill="#a3bbe0"/>
<line x1="812.00" y1="587.42" x2="815.70" y2="587.42" stroke="#666" stroke-width="1"/>
<text x="731.60" y="590.52" font-size="11" fill="#262626" color="#262626">catalytic activity</text>
<rect x="815.70" y="596.91" width="10.10" height="4.60" fill="#a3bbe0"/>
<line x1="812.00" y1="599.21" x2="815.70" y2="599.21" stroke="#666" stroke-width="1"/>
<text x="718.10" y="603.31" font-size="11" fill="#262626" color="#262626">molecular-function</text>
<rect x="815.70" y="608.70" width="9.50" height="4.60" fill="#a3bbe0"/>
<line x1="812.00" y1="611.00" x2="815.70" y2="611.00" stroke="#666" stroke-width="1"/>
<text x="672.25" y="615.10" font-size="11" fill="#262626" color="#262626">molecular function regulator</text>
<rect x="815.70" y="620.49" width="7.90" height="4.60" fill="#a3bbe0"/>
<line x1="812.00" y1="622.79" x2="815.70" y2="622.79" stroke="#666" stroke-width="1"/>
<text x="664.95" y="626.89" font-size="11" fill="#262626" color="#262626">transcription regulator activity</text>
<rect x="815.70" y="632.28" width="6.00" height="4.60" fill="#a3bbe0"/>
<line x1="812.00" y1="634.58" x2="815.70" y2="634.58" stroke="#666" stroke-width="1"/>
<text x="668.60" y="637.18" font-size="11" fill="#262626" color="#262626">molecular transducer activity</text>
<rect x="815.70" y="644.07" width="4.80" height="4.60" fill="#a3bbe0"/>
<line x1="812.00" y1="646.37" x2="815.70" y2="646.37" stroke="#666" stroke-width="1"/>
<text x="718.15" y="647.47" font-size="11" fill="#262626" color="#262626">transporter activity</text>
<rect x="815.70" y="655.86" width="1.30" height="4.60" fill="#a3bbe0"/>
<line x1="812.00" y1="658.16" x2="815.70" y2="658.16" stroke="#666" stroke-width="1"/>
<text x="679.00" y="660.76" font-size="11" fill="#262626" color="#262626">structural molecule activity</text>
<rect x="815.70" y="667.65" width="0.60" height="4.60" fill="#a3bbe0"/>
<line x1="812.00" y1="669.95" x2="815.70" y2="669.95" stroke="#666" stroke-width="1"/>
<text x="718.10" y="671.75" font-size="11" fill="#262626" color="#262626">antioxidant activity</text>
<line x1="812.00" y1="681.74" x2="815.70" y2="681.74" stroke="#666" stroke-width="1"/>
<text x="700.40" y="684.04" font-size="11" fill="#262626" color="#262626">cargo receptor activity</text>
<line x1="812.00" y1="693.53" x2="815.70" y2="693.53" stroke="#666" stroke-width="1"/>
<text x="675.30" y="694.83" font-size="11" fill="#262626" color="#262626">hijacked molecular function</text>
<line x1="812.00" y1="705.32" x2="815.70" y2="705.32" stroke="#666" stroke-width="1"/>
<text x="674.10" y="709.42" font-size="11" fill="#262626" color="#262626">translation regulator activity</text>
<line x1="812.00" y1="717.11" x2="815.70" y2="717.11" stroke="#666" stroke-width="1"/>
<text x="689.40" y="720.41" font-size="11" fill="#262626" color="#262626">molecular carrier activity</text>
<line x1="812.00" y1="728.90" x2="815.70" y2="728.90" stroke="#666" stroke-width="1"/>
<text x="756.00" y="733.80" font-size="11" fill="#262626" color="#262626">protein tag</text>
<line x1="815.70" y1="12.40" x2="815.70" y2="740.50" stroke="#6f6f6f" stroke-width="1.4"/>
<line x1="812.30" y1="12.40" x2="815.70" y2="12.40" stroke="#808080" stroke-width="1"/>
<line x1="811.30" y1="740.40" x2="887.80" y2="740.40" stroke="#7f7f7f" stroke-width="1.3"/>
<line x1="815.60" y1="740.40" x2="815.60" y2="743.90" stroke="#808080" stroke-width="1"/>
<line x1="835.40" y1="740.40" x2="835.40" y2="743.90" stroke="#808080" stroke-width="1"/>
<line x1="854.90" y1="740.40" x2="854.90" y2="743.90" stroke="#808080" stroke-width="1"/>
<line x1="874.50" y1="740.40" x2="874.50" y2="743.90" stroke="#808080" stroke-width="1"/>
<line x1="887.80" y1="740.40" x2="887.80" y2="743.90" stroke="#808080" stroke-width="1"/>
<text x="810.33" y="760.80" font-size="10.3" fill="#262626" color="#262626">0</text>
<text x="823.30" y="753.80" font-size="10.8" fill="#262626" transform="rotate(-45 841.30 753.80)">500</text>
<text x="837.85" y="751.20" font-size="10.8" fill="#262626" transform="rotate(-45 861.90 751.20)">1000</text>
<text x="858.55" y="751.00" font-size="10.8" fill="#262626" transform="rotate(-45 882.60 751.00)">1500</text>
<text x="824.20" y="786.20" font-size="15.5" fill="#111" color="#111" textLength="56.98" lengthAdjust="spacingAndGlyphs">Number</text>
<rect x="913.50" y="6.90" width="14.80" height="14.60" fill="#1f63a0"/>
<text x="935.70" y="17.80" font-size="14.5" fill="#262626" color="#262626" textLength="120.30" lengthAdjust="spacingAndGlyphs">biological-process</text>
<rect x="913.50" y="26.00" width="14.80" height="14.60" fill="#e2711d"/>
<text x="935.70" y="37.60" font-size="14.5" fill="#262626" color="#262626" textLength="127.21" lengthAdjust="spacingAndGlyphs">cellular-component</text>
<rect x="913.50" y="45.20" width="14.80" height="14.60" fill="#a3bbe0"/>
<text x="935.70" y="57.00" font-size="14.5" fill="#262626" color="#262626" textLength="122.72" lengthAdjust="spacingAndGlyphs">molecular-function</text>
<text x="1.60" y="366.87" font-size="29.63" fill="#111" color="#111" textLength="6.92" lengthAdjust="spacingAndGlyphs" style="stroke-width:0.85px">(</text>
<text x="11.50" y="366.69" font-size="30.79" fill="#111" color="#111" textLength="18.39" lengthAdjust="spacingAndGlyphs" style="stroke-width:0.85px">C</text>
<text x="33.80" y="366.87" font-size="29.63" fill="#111" color="#111" textLength="6.82" lengthAdjust="spacingAndGlyphs" style="stroke-width:0.85px">)</text>
<text x="172.10" y="393.00" font-size="13.5" fill="#262626" color="#262626" textLength="188.38" lengthAdjust="spacingAndGlyphs">LPS VS PE Glycolysis pathway</text>
<line x1="100.00" y1="407.50" x2="100.00" y2="547.50" stroke="#7a7a7a" stroke-width="1.3"/>
<line x1="96.30" y1="546.72" x2="100.00" y2="546.72" stroke="#7a7a7a" stroke-width="1.1"/>
<text x="76.90" y="550.02" font-size="8.4" fill="#262626" color="#262626">-0.1</text>
<line x1="96.30" y1="529.30" x2="100.00" y2="529.30" stroke="#7a7a7a" stroke-width="1.1"/>
<text x="79.70" y="532.60" font-size="8.4" fill="#262626" color="#262626">0.0</text>
<line x1="96.30" y1="511.88" x2="100.00" y2="511.88" stroke="#7a7a7a" stroke-width="1.1"/>
<text x="79.70" y="515.18" font-size="8.4" fill="#262626" color="#262626">0.1</text>
<line x1="96.30" y1="494.46" x2="100.00" y2="494.46" stroke="#7a7a7a" stroke-width="1.1"/>
<text x="79.70" y="497.76" font-size="8.4" fill="#262626" color="#262626">0.2</text>
<line x1="96.30" y1="477.04" x2="100.00" y2="477.04" stroke="#7a7a7a" stroke-width="1.1"/>
<text x="79.70" y="480.34" font-size="8.4" fill="#262626" color="#262626">0.3</text>
<line x1="96.30" y1="459.62" x2="100.00" y2="459.62" stroke="#7a7a7a" stroke-width="1.1"/>
<text x="79.70" y="462.92" font-size="8.4" fill="#262626" color="#262626">0.4</text>
<line x1="96.30" y1="442.20" x2="100.00" y2="442.20" stroke="#7a7a7a" stroke-width="1.1"/>
<text x="79.70" y="445.50" font-size="8.4" fill="#262626" color="#262626">0.5</text>
<line x1="96.30" y1="424.78" x2="100.00" y2="424.78" stroke="#7a7a7a" stroke-width="1.1"/>
<text x="79.70" y="428.08" font-size="8.4" fill="#262626" color="#262626">0.6</text>
<line x1="96.30" y1="407.36" x2="100.00" y2="407.36" stroke="#7a7a7a" stroke-width="1.1"/>
<text x="79.70" y="410.66" font-size="8.4" fill="#262626" color="#262626">0.7</text>
<text x="-52.50" y="0" font-size="11.0" fill="#262626" color="#262626" textLength="104.99" lengthAdjust="spacingAndGlyphs" transform="translate(64.00 477.00) rotate(-90)">Enrichment score(ES)</text>
<line x1="100.00" y1="424.30" x2="168.80" y2="424.30" stroke="#b0b0b0" stroke-width="0.8" stroke-dasharray="3 2.5"/>
<line x1="168.80" y1="424.30" x2="168.80" y2="547.00" stroke="#b0b0b0" stroke-width="0.8" stroke-dasharray="3 2.5"/>
<line x1="100.00" y1="529.40" x2="475.00" y2="529.40" stroke="#8a8a8a" stroke-width="1.0"/>
<polyline points="100.0,529.4 124.7,541.0 125.5,523.9 127.6,511.9 129.3,501.6 131.3,493.9 133.1,486.1 133.6,478.8 137.0,474.1 137.9,467.3 139.2,462.1 140.9,456.7 144.7,448.4 147.8,445.0 148.1,439.0 148.5,433.0 149.5,427.9 154.1,426.1 168.7,427.0 168.7,423.8 176.2,425.4 191.8,431.0 193.7,429.8 198.5,430.5 216.4,437.3 223.3,438.5 228.0,439.0 232.8,440.5 240.0,441.0 255.2,448.0 260.0,448.8 274.3,455.2 295.9,465.4 303.9,468.6 308.7,470.9 315.0,473.0 347.8,487.8 353.1,489.3 365.8,494.3 377.1,498.3 386.1,500.9 392.1,502.4 396.6,502.5 397.4,500.6 402.6,501.5 411.6,503.3 429.7,508.4 458.2,521.6 474.6,529.3" fill="none" stroke="#4aa329" stroke-width="1.6" stroke-linejoin="round"/>
<path d="M124.7 541.0h0M125.5 523.9h0M127.6 511.9h0M129.3 501.6h0M131.3 493.9h0M133.1 486.1h0M133.6 478.8h0M137.0 474.1h0M137.9 467.3h0M139.2 462.1h0M140.9 456.7h0M144.7 448.4h0M147.8 445.0h0M148.1 439.0h0M148.5 433.0h0M149.5 427.9h0M154.1 426.1h0M168.7 427.0h0M168.7 423.8h0M176.2 425.4h0M191.8 431.0h0M193.7 429.8h0M198.5 430.5h0M216.4 437.3h0M223.3 438.5h0M228.0 439.0h0M232.8 440.5h0M240.0 441.0h0M255.2 448.0h0M260.0 448.8h0M274.3 455.2h0M295.9 465.4h0M303.9 468.6h0M308.7 470.9h0M315.0 473.0h0M347.8 487.8h0M353.1 489.3h0M365.8 494.3h0M377.1 498.3h0M386.1 500.9h0M392.1 502.4h0M396.6 502.5h0M397.4 500.6h0M402.6 501.5h0M411.6 503.3h0M429.7 508.4h0M458.2 521.6h0M474.6 529.3h0" stroke="#4aa329" stroke-width="2.4" stroke-linecap="round" fill="none"/>
<text x="156.00" y="437.00" font-size="10.5" fill="#262626" color="#262626" textLength="25.01" lengthAdjust="spacingAndGlyphs">2594</text>
<text x="325.40" y="420.50" font-size="9.8" fill="#262626" color="#262626" textLength="83.02" lengthAdjust="spacingAndGlyphs">FDR q-value &lt;0,01</text>
<text x="335.60" y="437.40" font-size="9.8" fill="#262626" color="#262626" textLength="61.00" lengthAdjust="spacingAndGlyphs">P-value &lt;0.01</text>
<text x="341.40" y="454.00" font-size="9.8" fill="#262626" color="#262626" textLength="47.62" lengthAdjust="spacingAndGlyphs">NES =2.13</text>
<line x1="100.00" y1="547.00" x2="475.00" y2="547.00" stroke="#acacac" stroke-width="1.0"/>
<path d="M101.40 549.8V583.6M104.30 549.8V583.6M107.10 549.8V583.6M107.60 549.8V583.6M111.70 549.8V583.6M112.60 549.8V583.6M114.30 549.8V583.6M117.70 549.8V583.6M123.70 549.8V583.6M124.50 549.8V583.6M125.40 549.8V583.6M127.40 549.8V583.6M129.30 549.8V583.6M131.70 549.8V583.6M133.50 549.8V583.6M137.40 549.8V583.6M139.10 549.8V583.6M140.00 549.8V583.6M140.80 549.8V583.6M141.70 549.8V583.6M143.70 549.8V583.6M145.40 549.8V583.6M148.20 549.8V583.6M148.80 549.8V583.6M153.70 549.8V583.6M162.30 549.8V583.6M168.40 549.8V583.6M176.20 549.8V583.6M191.60 549.8V583.6M192.90 549.8V583.6M194.30 549.8V583.6M198.60 549.8V583.6M216.60 549.8V583.6M223.20 549.8V583.6M227.50 549.8V583.6M232.60 549.8V583.6M233.50 549.8V583.6M236.20 549.8V583.6M238.40 549.8V583.6M239.70 549.8V583.6M255.50 549.8V583.6M256.80 549.8V583.6M258.90 549.8V583.6M274.30 549.8V583.6M295.70 549.8V583.6M296.60 549.8V583.6M303.50 549.8V583.6M307.80 549.8V583.6M308.50 549.8V583.6M311.40 549.8V583.6M314.40 549.8V583.6M315.20 549.8V583.6M348.00 549.8V583.6M353.10 549.8V583.6M365.50 549.8V583.6M377.40 549.8V583.6M386.30 549.8V583.6M392.50 549.8V583.6M397.20 549.8V583.6M403.40 549.8V583.6M411.70 549.8V583.6M429.50 549.8V583.6M458.60 549.8V583.6M467.70 549.8V583.6M472.50 549.8V583.6M473.50 549.8V583.6M474.40 549.8V583.6" stroke="#3a3a3a" stroke-width="1.0" fill="none"/>
<line x1="100.00" y1="547.00" x2="100.00" y2="682.00" stroke="#7a7a7a" stroke-width="1.3"/>
<defs><linearGradient id="cb" x1="100" x2="475" y1="0" y2="0" gradientUnits="userSpaceOnUse">
<stop offset="0" stop-color="#dc2119"/><stop offset="0.066" stop-color="#dc2119"/>
<stop offset="0.069" stop-color="#f0a4a4"/><stop offset="0.15" stop-color="#f6c8c8"/>
<stop offset="0.33" stop-color="#fbe6e6"/><stop offset="0.5" stop-color="#ffffff"/>
<stop offset="0.62" stop-color="#f2f7fb"/><stop offset="0.85" stop-color="#dde9f4"/>
<stop offset="0.93" stop-color="#c3d7eb"/><stop offset="0.938" stop-color="#a9c5e2"/>
<stop offset="0.94" stop-color="#1f5ea8"/><stop offset="1" stop-color="#1f5ea8"/>
</linearGradient>
<linearGradient id="s2n" x1="0" x2="0" y1="407.1" y2="476.7" gradientUnits="userSpaceOnUse">
<stop offset="0" stop-color="#d7191c"/><stop offset="0.25" stop-color="#e88080"/><stop offset="0.5" stop-color="#ffffff"/>
<stop offset="0.75" stop-color="#7faad2"/><stop offset="1" stop-color="#1f5ea8"/></linearGradient></defs>
<rect x="100.00" y="584.00" width="374.80" height="11.90" fill="url(#cb)"/>
<line x1="100.00" y1="596.30" x2="475.00" y2="596.30" stroke="#c8c8c8" stroke-width="0.8"/>
<path d="M100.0 638.2 L100.0 598.9 L125.7 598.9 L126.1 609.0 L127.1 617.0 L128.0 620.5 L129.0 623.5 L131.0 626.5 L133.7 628.8 L138.0 630.6 L145.1 632.6 L155.0 633.9 L164.1 634.7 L180.0 635.7 L202.2 636.5 L240.3 637.4 L290.0 638.0 L404.0 638.6 L420.0 639.6 L430.3 640.9 L438.0 642.3 L443.5 643.9 L448.0 645.6 L451.4 647.8 L453.5 650.5 L454.8 655.7 L455.5 665.0 L455.8 677.5 L475.0 677.5 L475.0 638.2Z" fill="#bdbdbd"/>
<line x1="100.00" y1="638.20" x2="475.00" y2="638.20" stroke="#8c8c8c" stroke-width="1.0"/>
<line x1="290.50" y1="596.00" x2="290.50" y2="681.00" stroke="#444" stroke-width="0.9" stroke-dasharray="3 2.4"/>
<text x="243.70" y="651.90" font-size="9.7" fill="#262626" color="#262626" textLength="80.72" lengthAdjust="spacingAndGlyphs">Zero cross at 6233</text>
<text x="89.60" y="605.30" font-size="7.0" fill="#262626" color="#262626">10</text>
<text x="93.50" y="613.10" font-size="7.0" fill="#262626" color="#262626">8</text>
<text x="93.50" y="619.70" font-size="7.0" fill="#262626" color="#262626">6</text>
<text x="93.50" y="626.00" font-size="7.0" fill="#262626" color="#262626">4</text>
<text x="93.50" y="634.40" font-size="7.0" fill="#262626" color="#262626">2</text>
<text x="93.50" y="642.00" font-size="7.0" fill="#262626" color="#262626">0</text>
<text x="91.20" y="651.80" font-size="7.0" fill="#262626" color="#262626">-2</text>
<text x="91.20" y="659.50" font-size="7.0" fill="#262626" color="#262626">-4</text>
<text x="91.20" y="666.50" font-size="7.0" fill="#262626" color="#262626">-6</text>
<text x="91.20" y="673.40" font-size="7.0" fill="#262626" color="#262626">-8</text>
<text x="87.30" y="682.90" font-size="7.0" fill="#262626" color="#262626">-10</text>
<text x="-42.15" y="0" font-size="10.6" fill="#262626" color="#262626" textLength="84.29" lengthAdjust="spacingAndGlyphs" transform="translate(78.90 644.00) rotate(-90)">Ranked list metric</text>
<line x1="99.40" y1="681.70" x2="488.20" y2="681.70" stroke="#7a7a7a" stroke-width="1.3"/>
<line x1="100.00" y1="681.70" x2="100.00" y2="685.60" stroke="#7a7a7a" stroke-width="1.1"/>
<text x="97.40" y="700.10" font-size="11.5" fill="#262626" color="#262626">0</text>
<line x1="153.19" y1="681.70" x2="153.19" y2="685.60" stroke="#7a7a7a" stroke-width="1.1"/>
<text x="140.99" y="700.10" font-size="11.5" fill="#262626" color="#262626">2000</text>
<line x1="206.38" y1="681.70" x2="206.38" y2="685.60" stroke="#7a7a7a" stroke-width="1.1"/>
<text x="194.18" y="700.10" font-size="11.5" fill="#262626" color="#262626">4000</text>
<line x1="259.58" y1="681.70" x2="259.58" y2="685.60" stroke="#7a7a7a" stroke-width="1.1"/>
<text x="247.38" y="700.10" font-size="11.5" fill="#262626" color="#262626">6000</text>
<line x1="312.77" y1="681.70" x2="312.77" y2="685.60" stroke="#7a7a7a" stroke-width="1.1"/>
<text x="300.57" y="700.10" font-size="11.5" fill="#262626" color="#262626">8000</text>
<line x1="365.96" y1="681.70" x2="365.96" y2="685.60" stroke="#7a7a7a" stroke-width="1.1"/>
<text x="350.56" y="700.10" font-size="11.5" fill="#262626" color="#262626">10000</text>
<line x1="419.15" y1="681.70" x2="419.15" y2="685.60" stroke="#7a7a7a" stroke-width="1.1"/>
<text x="403.75" y="700.10" font-size="11.5" fill="#262626" color="#262626">12000</text>
<line x1="472.34" y1="681.70" x2="472.34" y2="685.60" stroke="#7a7a7a" stroke-width="1.1"/>
<text x="456.94" y="700.10" font-size="11.5" fill="#262626" color="#262626">14000</text>
<line x1="488.20" y1="681.70" x2="488.20" y2="685.60" stroke="#7a7a7a" stroke-width="1.1"/>
<text x="230.00" y="723.00" font-size="14.6" fill="#262626" color="#262626" textLength="149.79" lengthAdjust="spacingAndGlyphs">Rank in Ordered Dataset</text>
<text x="495.10" y="394.80" font-size="11.3" fill="#262626" color="#262626" textLength="67.88" lengthAdjust="spacingAndGlyphs">Signal2Noise</text>
<rect x="501.60" y="407.10" width="8.20" height="69.60" fill="url(#s2n)"/>
<line x1="509.80" y1="407.10" x2="509.80" y2="476.70" stroke="#555" stroke-width="0.9"/>
<line x1="509.80" y1="407.50" x2="512.60" y2="407.50" stroke="#555" stroke-width="0.9"/>
<text x="518.85" y="411.20" font-size="10.5" fill="#262626" color="#262626">10</text>
<line x1="509.80" y1="425.00" x2="512.60" y2="425.00" stroke="#555" stroke-width="0.9"/>
<text x="521.78" y="428.70" font-size="10.5" fill="#262626" color="#262626">5</text>
<line x1="509.80" y1="443.70" x2="512.60" y2="443.70" stroke="#555" stroke-width="0.9"/>
<text x="521.78" y="447.40" font-size="10.5" fill="#262626" color="#262626">0</text>
<line x1="509.80" y1="461.00" x2="512.60" y2="461.00" stroke="#555" stroke-width="0.9"/>
<text x="520.03" y="464.70" font-size="10.5" fill="#262626" color="#262626">-5</text>
<line x1="509.80" y1="476.50" x2="512.60" y2="476.50" stroke="#555" stroke-width="0.9"/>
<text x="517.10" y="480.20" font-size="10.5" fill="#262626" color="#262626">-10</text>
<rect x="501.00" y="488.20" width="8.80" height="8.40" fill="#52ab2f"/>
<text x="513.40" y="496.40" font-size="9.7" fill="#262626" color="#262626">Enrichment Profile</text>
<rect x="501.00" y="501.50" width="8.80" height="8.40" fill="#111"/>
<text x="513.40" y="509.10" font-size="9.7" fill="#262626" color="#262626">Hits</text>
<rect x="501.00" y="514.50" width="8.80" height="8.40" fill="#c0c0c0"/>
<text x="513.40" y="522.10" font-size="9.7" fill="#262626" color="#262626">Ranking metric scores</text>
</svg></body></html>
